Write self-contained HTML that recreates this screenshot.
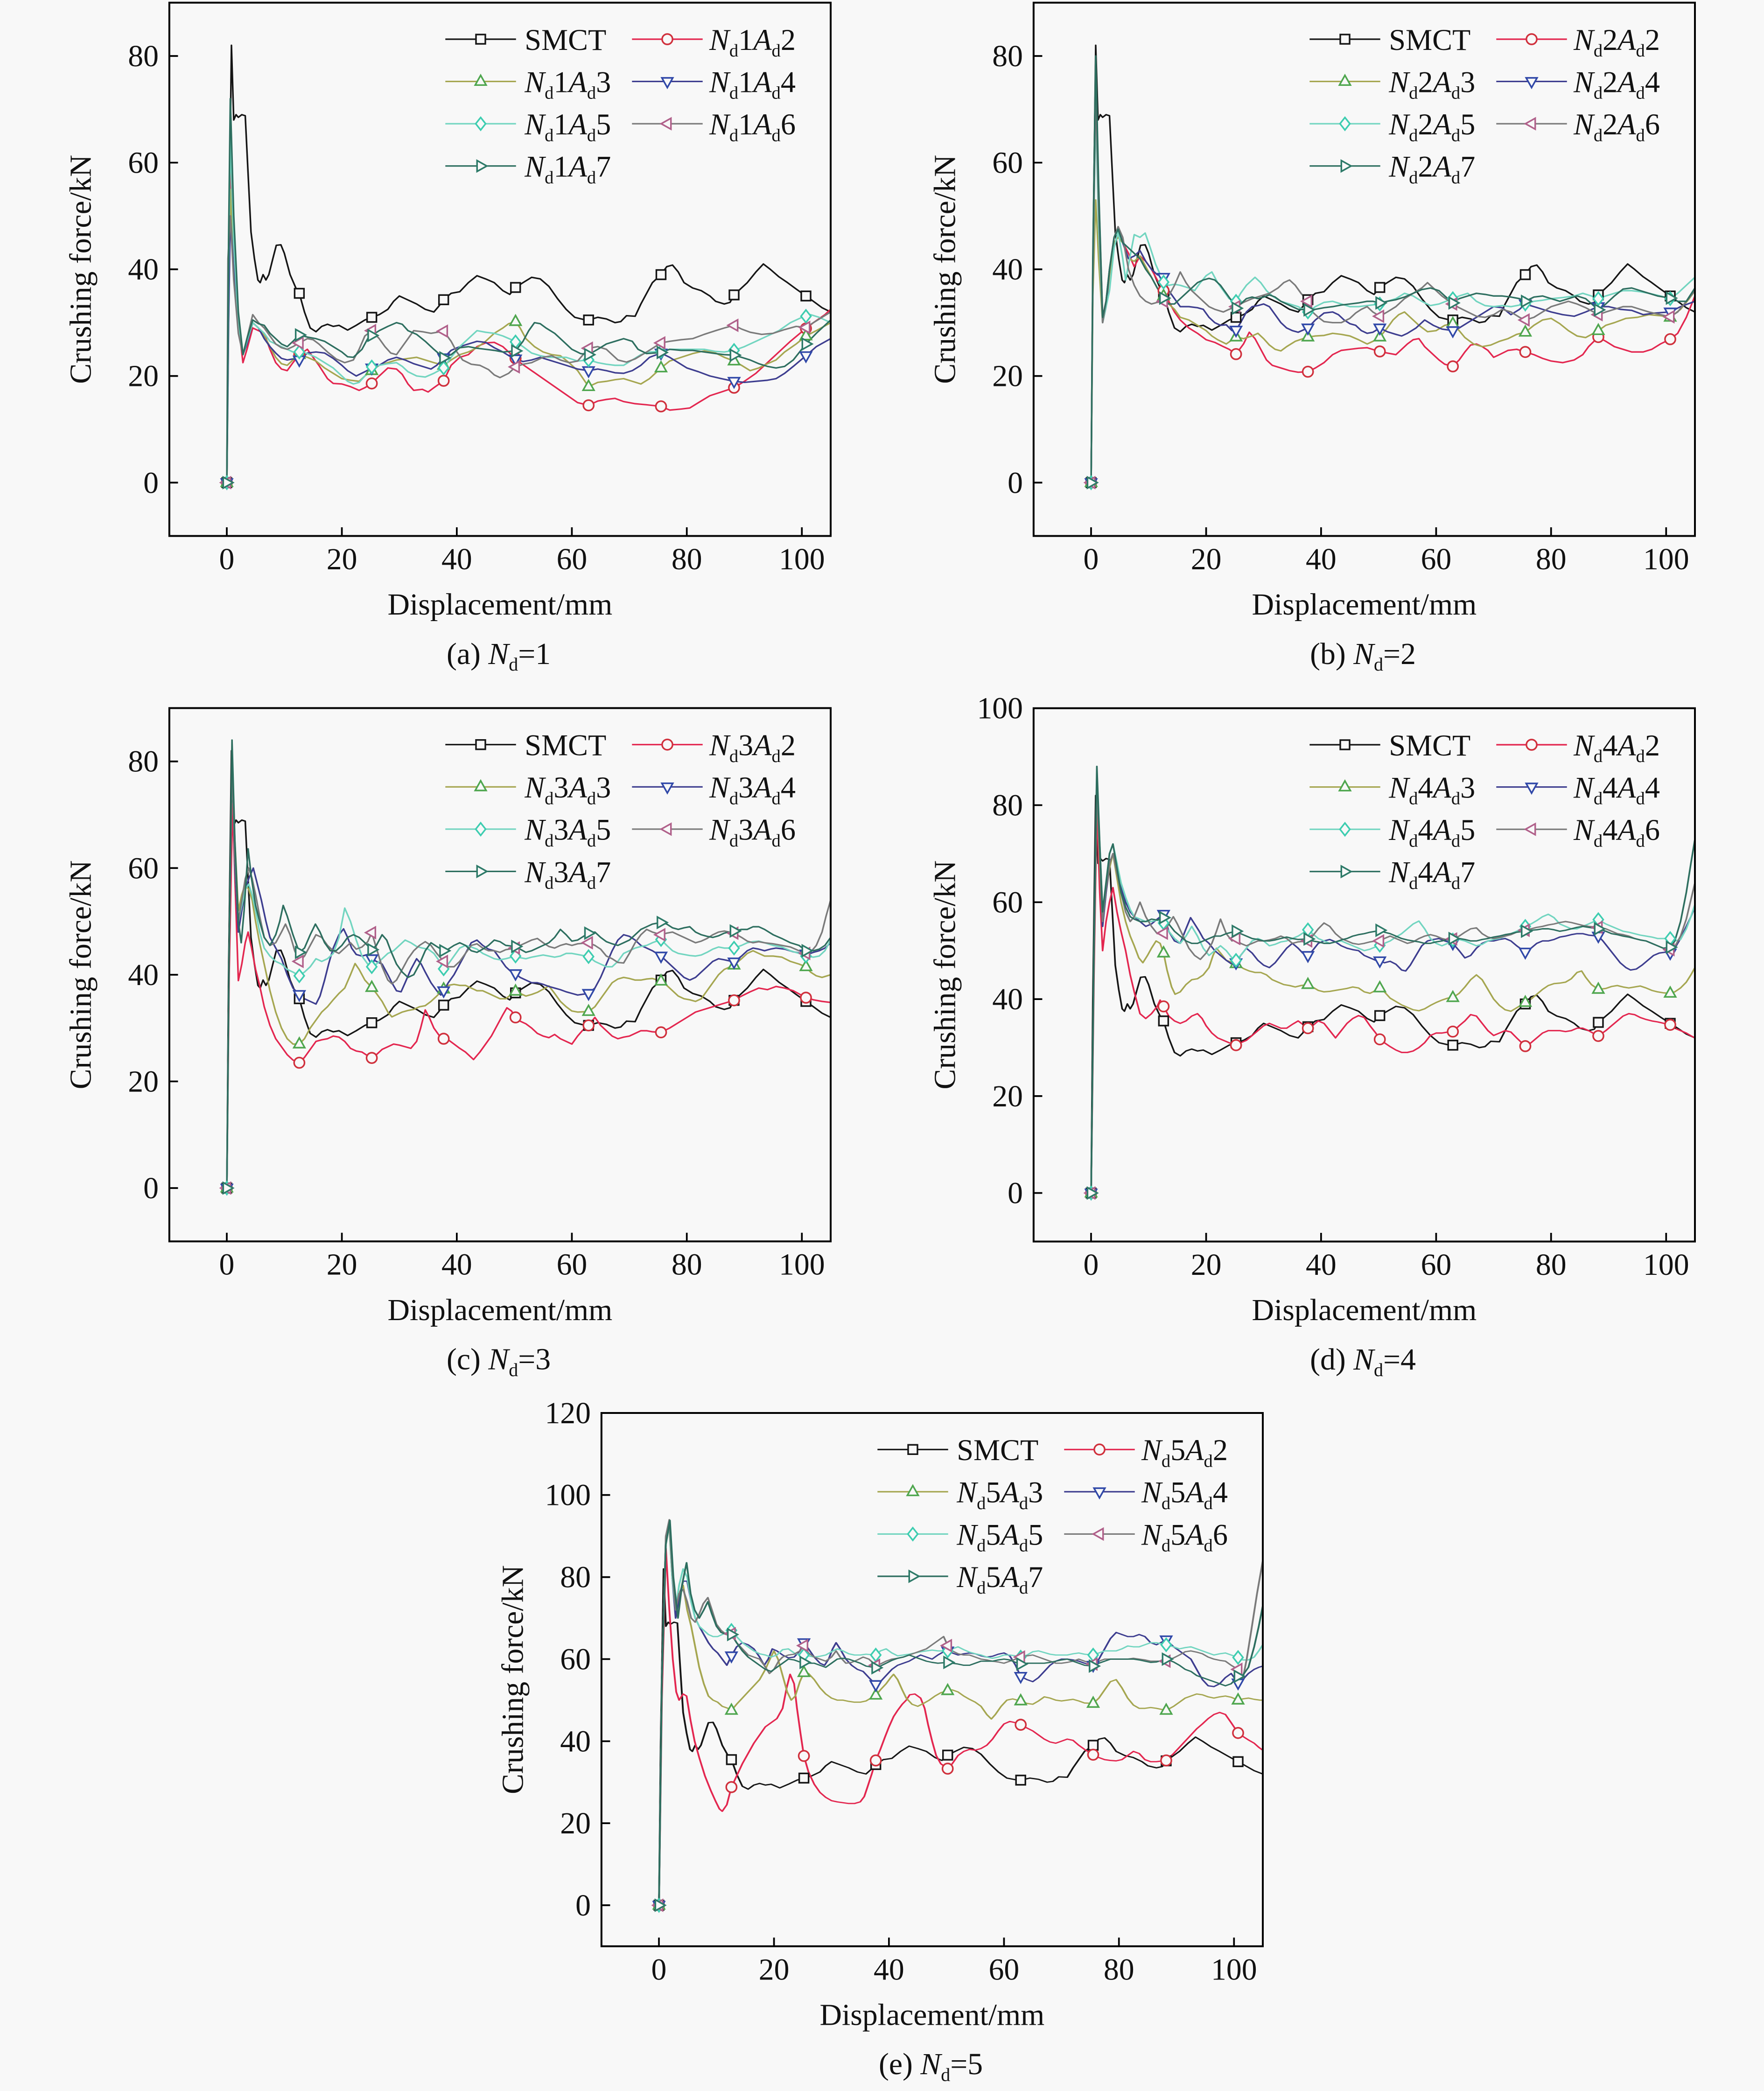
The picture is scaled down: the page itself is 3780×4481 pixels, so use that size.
<!DOCTYPE html>
<html><head><meta charset="utf-8"><style>
html,body{margin:0;padding:0;background:#f8f8f8;}
svg{display:block;}
text{font-family:"Liberation Serif",serif;font-size:23px;fill:#111;}
.lg text{font-size:22.5px;}
</style></head><body>
<svg xmlns="http://www.w3.org/2000/svg" xmlns:xlink="http://www.w3.org/1999/xlink" width="3780" height="4481" viewBox="0 0 1323 1568.35">
<rect x="0" y="0" width="1323" height="1568.35" fill="#f8f8f8"/>
<defs>
<rect id="p_sq" x="-3.5" y="-3.5" width="7" height="7" fill="#f8f8f8" stroke-width="1.2"/>
<circle id="p_ci" r="3.9" fill="#f8f8f8" stroke-width="1.2"/>
<path id="p_tu" d="M0,-4.6L4.1,2.7L-4.1,2.7Z" fill="#f8f8f8" stroke-width="1.2"/>
<path id="p_td" d="M0,4.6L4.1,-2.7L-4.1,-2.7Z" fill="#f8f8f8" stroke-width="1.2"/>
<path id="p_di" d="M0,-4.7L3.7,0L0,4.7L-3.7,0Z" fill="#f8f8f8" stroke-width="1.2"/>
<path id="p_tl" d="M-4.6,0L2.7,-4.1L2.7,4.1Z" fill="#f8f8f8" stroke-width="1.2"/>
<path id="p_tr" d="M4.6,0L-2.7,-4.1L-2.7,4.1Z" fill="#f8f8f8" stroke-width="1.2"/>
<g id="sqA" transform="scale(.2319,.25)"><use href="#p_sq" xlink:href="#p_sq"/></g>
<g id="ciA" transform="scale(.2319,.25)"><use href="#p_ci" xlink:href="#p_ci"/></g>
<g id="tuA" transform="scale(.2319,.25)"><use href="#p_tu" xlink:href="#p_tu"/></g>
<g id="tdA" transform="scale(.2319,.25)"><use href="#p_td" xlink:href="#p_td"/></g>
<g id="diA" transform="scale(.2319,.25)"><use href="#p_di" xlink:href="#p_di"/></g>
<g id="tlA" transform="scale(.2319,.25)"><use href="#p_tl" xlink:href="#p_tl"/></g>
<g id="trA" transform="scale(.2319,.25)"><use href="#p_tr" xlink:href="#p_tr"/></g>
<g id="sqD" transform="scale(.2319,.275)"><use href="#p_sq" xlink:href="#p_sq"/></g>
<g id="ciD" transform="scale(.2319,.275)"><use href="#p_ci" xlink:href="#p_ci"/></g>
<g id="tuD" transform="scale(.2319,.275)"><use href="#p_tu" xlink:href="#p_tu"/></g>
<g id="tdD" transform="scale(.2319,.275)"><use href="#p_td" xlink:href="#p_td"/></g>
<g id="diD" transform="scale(.2319,.275)"><use href="#p_di" xlink:href="#p_di"/></g>
<g id="tlD" transform="scale(.2319,.275)"><use href="#p_tl" xlink:href="#p_tl"/></g>
<g id="trD" transform="scale(.2319,.275)"><use href="#p_tr" xlink:href="#p_tr"/></g>
<g id="sqE" transform="scale(.2319,.325)"><use href="#p_sq" xlink:href="#p_sq"/></g>
<g id="ciE" transform="scale(.2319,.325)"><use href="#p_ci" xlink:href="#p_ci"/></g>
<g id="tuE" transform="scale(.2319,.325)"><use href="#p_tu" xlink:href="#p_tu"/></g>
<g id="tdE" transform="scale(.2319,.325)"><use href="#p_td" xlink:href="#p_td"/></g>
<g id="diE" transform="scale(.2319,.325)"><use href="#p_di" xlink:href="#p_di"/></g>
<g id="tlE" transform="scale(.2319,.325)"><use href="#p_tl" xlink:href="#p_tl"/></g>
<g id="trE" transform="scale(.2319,.325)"><use href="#p_tr" xlink:href="#p_tr"/></g>
<polyline id="smct" points="0,0 0.3,40 0.8,82 1.2,68 1.6,69 2,68.5 2.6,69 3.2,68.8 3.6,60 4.2,47 4.8,42 5.4,38 5.8,37.5 6.3,39 6.8,38 7.3,39 8,42 8.6,44.5 9.4,44.6 10,43 11,39 12,36.5 12.6,35.5 13.5,32 14.5,29 15.5,28.3 16.5,29.3 17.5,29.7 18.5,29.3 19.5,29.5 21,28.6 22.5,29.5 24,30.5 25.2,31 26.5,31.5 28,32.5 29,34 30,35 31,34.5 32,34 33,33.5 34.5,32.5 36,32 36.8,33 37.7,34.3 39,35.5 40.5,35.8 42,37.5 43.5,38.8 45,38.2 46.5,37.5 48,36 49.2,35.3 50.2,36.6 51.5,37.5 53,38.5 54.5,38.2 56,36.8 57.5,34.5 59,32.5 60.5,31 62,30.6 62.9,30.5 64.5,31 66,30.7 67.5,30 68.5,30.2 69.5,31.3 71,31.2 72,33.5 73,35.5 74,37.5 75.5,39 76.5,40.5 77.5,40.8 78.5,39.5 79.5,37.5 81,36.5 82.5,36 84,35 85,34 86.5,33.5 87.5,33.8 88.2,35.2 89.5,36.5 90.5,37.5 92,39.5 93.3,41 94.5,40 96,38.6 97.5,37.5 99,36.3 100.7,35 102,34 103.5,32.8 105,32"/>
</defs>

<!-- ================= PANEL A ================= -->
<g transform="translate(127,2)">
<svg x="0" y="0" width="496" height="400" viewBox="-10 -90 115 100" preserveAspectRatio="none">
<g transform="scale(1,-1)" fill="none" stroke-width=".28" stroke-linejoin="round">
<use href="#smct" xlink:href="#smct" stroke="#151515"/>
<polyline stroke="#e3264f" points="0,0 0.3,35 0.6,60 1.2,42 2,30 2.8,22.5 3.5,25 4.5,29 5.5,28.5 6.5,28 7.5,25 8.5,22.5 9.5,21.3 10.5,21 11.5,22.5 12.6,24 14,25 15,23.5 16,22 17.5,19.5 18.5,18.6 20,18.5 21.5,18 23,17.3 24,17.8 25.2,18.6 26.5,20 28,21.5 29.5,21.3 30.5,20.3 31.5,18.5 32.5,17.3 34,17.5 35,17 36,17.8 37.7,19.1 39,22 40.5,23.5 42,24 43.5,25.5 45,26.2 46.5,26.3 48,25.5 49.5,24 51,22.5 53,21 55,19.5 57,18 59,16.5 61,15 62.9,14.5 64.5,15.3 66,15.6 67.5,15.8 69,15.2 71,14.8 73,14.6 75.5,14.3 77,13.6 79,13.8 80.5,14 82,15 84,16.3 86,17 88.2,17.8 90,19 92,20.5 94,22.5 96,24.5 98,26.5 100,28.3 102,30 104,31.5 105,32.5"/>
<polyline stroke="#a5a650" points="0,0 0.3,30 0.6,55 1.2,40 2,30 2.8,24 3.5,26 4.5,30 5.5,29 6.5,27.5 7.5,25.5 8.5,23.5 9.5,22.3 10.5,22 11.5,23 12.6,24 14,23.5 15.5,22.8 17,21.5 18.5,20.5 20,19.5 21.5,19.2 23,19 24,20 25.2,21 26.5,22 28,22.5 29.5,23 31,23.2 33,23.5 34.5,23 36,22.5 37.7,22 39,23 40.5,24 42,24.5 43.5,25.3 45,26.5 46.5,28 48,29 49,29.8 50.2,30.2 51,29 52,27 53.5,25.5 55,24.5 56.5,24 58,23.8 59.5,22.5 61,21 62.9,18 64.5,18.8 66,19 67.5,19.3 69,19.5 70.5,19 72,18.5 73.5,19.5 75.5,21.5 77,22.8 79,23.5 81,24.2 83,24.7 85,24.3 86.5,23.5 88.2,22.8 89.5,22 91,21 92.5,21.5 94,22.3 95.5,23 97,24.5 99,26 100.7,27.5 102.5,28.5 105,30"/>
<polyline stroke="#3d3d8f" points="0,0 0.3,30 0.6,50 1.2,40 2,30 2.8,24 3.5,26 4.5,30 5.5,29 6.5,27 7.5,25.5 8.5,24.3 9.5,23.3 10.5,23 11.5,23.2 12.6,23 14,24.3 15.5,24.5 17,24.3 18.5,23.3 20,22 21,21 22.5,20 24,20.8 25.2,21.5 26.5,22 28,23 29.5,23.5 31,23 32.5,22.3 34,21.8 35.5,21.3 36.5,22 37.7,23.4 39,24.8 40.5,25.5 42,26 43.5,26.5 45,26.3 46.5,25.3 48,24.5 49.5,23.5 50.2,23.2 51.5,22.7 53,23 54.5,23.5 56,23 57.5,22.5 59,22 61,21.3 62.9,21 64.5,21.3 66,21 67.5,20.6 69,20.5 70.5,21 72,22 73.5,23.5 75.5,24.3 77,23.5 78.5,22.5 80,21.5 82,20.8 84,20 86,19.5 88.2,19 90,18.8 92,19 94,19.2 95.5,19.5 97,20.5 98.5,21.8 100.7,23.8 102.5,25.5 105,27"/>
<polyline stroke="#72d5c0" points="0,0 0.3,40 0.6,65 1.2,45 2,30 2.8,24 3.5,26.5 4.5,30 5.5,29 6.5,28 7.5,26.5 8.5,26 9.5,25.5 10.5,25 11.5,24.5 12.6,24.5 14,24.2 15.5,23.5 17,22.5 18.5,21.5 20,20 21,19 22,18.5 23,18.8 24,20 25.2,21.7 26.5,22 28,22.3 29.5,22.5 30.5,21.8 31.5,20.8 33,20 34.5,19.8 36,20.5 37.7,21.5 39,23.5 40.5,25.5 42,27 43.5,28.5 45,28.2 46.5,28 48,27.5 49.5,26.8 50.2,26.4 51.5,25.5 53,24.3 54.5,23.8 56,23.5 57.5,23.5 59,23.5 61,22.8 62.9,23 64.5,22.5 66,22.2 67.5,22 69,22 70.5,23 72,24 73.5,24.5 75.5,24.6 77,25 79,25 81,25 83,25 85,24.6 86.5,24.5 88.2,24.8 90,25.5 92,26.5 94,27.5 96,28.5 98,30 100,31 101.5,31.5 103,31 105,30"/>
<polyline stroke="#7a7a7a" points="0,0 0.2,42 0.6,50 1.2,38 2,28 2.8,24 3.5,27 4.5,31.5 5.5,30 6.5,29 7.5,27.5 8.5,26 9.5,25.3 10.5,25 11.5,25.5 12.6,26.2 14,27 15,26.8 16,26 17.5,24.5 19,23.2 20.5,22.5 22,23 23,25 24,27.5 25.2,28.5 26.5,27 27.5,25.5 28.5,24.3 29.5,24 30.5,25.5 31.5,27 32.5,28.5 34,28.3 35.5,28 37.7,28.4 39,26.5 40,24.5 41,23 42.5,22.2 44,22 45.5,21.2 46.5,20.2 47.5,19.7 49,20.5 50.2,21.7 51.5,22.2 53,22.5 55,23.5 56.5,23.8 58,23 59.5,22.5 61,22.8 62.9,25.2 64.5,25.5 66,25 67,24 68,23 69.5,22.6 71,23.2 73,24.5 75.5,26.2 77,26.5 79,26.8 81,27 83,27.8 85,28.5 86.5,29 88.2,29.5 89.5,28.8 91,28.2 93,27.8 95,28 97,28.7 99,29.3 100.7,29.1 102,30 103.5,31 105,32"/>
<polyline stroke="#2d6e5f" points="0,0 0.3,45 0.6,72 1.2,50 2,32 2.8,24 3.5,27 4.5,30.5 5.5,29.8 6.5,29.5 7.5,28 8.5,27 9.5,26 10.5,25.5 11.5,26.5 12.6,27.7 14,27.3 15.5,27 17,26.5 18.5,25.5 20,24.5 21,23.6 22,23.5 23.5,25 24.5,27 25.2,27.6 26.5,28.5 28,29.3 29.5,30 30.5,29.7 31.5,28.5 33,27.8 34.5,26.5 36,25 37.7,23.4 39,24 40.5,25.3 42,25.5 43.5,25.2 45,25 46.5,24.8 48,24.5 50.2,24.7 51.5,26.5 52.5,28.5 53.5,30 54.5,29.8 55.5,29 57,28 58.5,26.5 60,25 61.5,24.2 62.9,24 64.5,25 66,26 67.5,26.5 69,27 70.5,26.5 71.5,25 73,24.2 75.5,24.4 77,25 79,24.8 81,24.8 83,24.5 85,24.2 86.5,24 88.2,23.9 89.5,23.5 91,23 92.5,22.3 94,21.8 95.5,21.5 97,21.8 98.5,23 100.7,26 102.5,28 104,29.5 105,30.5"/>
</g>
<g stroke="#151515"><use href="#sqA" xlink:href="#sqA" x="0" y="0"/><use href="#sqA" xlink:href="#sqA" x="12.6" y="-35.5"/><use href="#sqA" xlink:href="#sqA" x="25.2" y="-31"/><use href="#sqA" xlink:href="#sqA" x="37.7" y="-34.3"/><use href="#sqA" xlink:href="#sqA" x="50.2" y="-36.6"/><use href="#sqA" xlink:href="#sqA" x="62.9" y="-30.5"/><use href="#sqA" xlink:href="#sqA" x="75.5" y="-39"/><use href="#sqA" xlink:href="#sqA" x="88.2" y="-35.2"/><use href="#sqA" xlink:href="#sqA" x="100.7" y="-35"/></g>
<g stroke="#d0303c"><use href="#ciA" xlink:href="#ciA" x="0" y="0"/><use href="#ciA" xlink:href="#ciA" x="12.6" y="-24"/><use href="#ciA" xlink:href="#ciA" x="25.2" y="-18.6"/><use href="#ciA" xlink:href="#ciA" x="37.7" y="-19.1"/><use href="#ciA" xlink:href="#ciA" x="50.2" y="-23.3"/><use href="#ciA" xlink:href="#ciA" x="62.9" y="-14.5"/><use href="#ciA" xlink:href="#ciA" x="75.5" y="-14.3"/><use href="#ciA" xlink:href="#ciA" x="88.2" y="-17.8"/><use href="#ciA" xlink:href="#ciA" x="100.7" y="-28.9"/></g>
<g stroke="#4ea64e"><use href="#tuA" xlink:href="#tuA" x="0" y="0"/><use href="#tuA" xlink:href="#tuA" x="12.6" y="-24"/><use href="#tuA" xlink:href="#tuA" x="25.2" y="-21"/><use href="#tuA" xlink:href="#tuA" x="37.7" y="-22"/><use href="#tuA" xlink:href="#tuA" x="50.2" y="-30.2"/><use href="#tuA" xlink:href="#tuA" x="62.9" y="-18"/><use href="#tuA" xlink:href="#tuA" x="75.5" y="-21.5"/><use href="#tuA" xlink:href="#tuA" x="88.2" y="-22.8"/><use href="#tuA" xlink:href="#tuA" x="100.7" y="-27.5"/></g>
<g stroke="#3048a8"><use href="#tdA" xlink:href="#tdA" x="0" y="0"/><use href="#tdA" xlink:href="#tdA" x="12.6" y="-23"/><use href="#tdA" xlink:href="#tdA" x="25.2" y="-21.5"/><use href="#tdA" xlink:href="#tdA" x="37.7" y="-23.4"/><use href="#tdA" xlink:href="#tdA" x="50.2" y="-23.2"/><use href="#tdA" xlink:href="#tdA" x="62.9" y="-21"/><use href="#tdA" xlink:href="#tdA" x="75.5" y="-24.3"/><use href="#tdA" xlink:href="#tdA" x="88.2" y="-19"/><use href="#tdA" xlink:href="#tdA" x="100.7" y="-23.8"/></g>
<g stroke="#3dcdb0"><use href="#diA" xlink:href="#diA" x="0" y="0"/><use href="#diA" xlink:href="#diA" x="12.6" y="-24.5"/><use href="#diA" xlink:href="#diA" x="25.2" y="-21.7"/><use href="#diA" xlink:href="#diA" x="37.7" y="-21.5"/><use href="#diA" xlink:href="#diA" x="50.2" y="-26.4"/><use href="#diA" xlink:href="#diA" x="62.9" y="-23"/><use href="#diA" xlink:href="#diA" x="75.5" y="-24.6"/><use href="#diA" xlink:href="#diA" x="88.2" y="-24.8"/><use href="#diA" xlink:href="#diA" x="100.7" y="-31.2"/></g>
<g stroke="#b0608a"><use href="#tlA" xlink:href="#tlA" x="0" y="0"/><use href="#tlA" xlink:href="#tlA" x="12.6" y="-26.2"/><use href="#tlA" xlink:href="#tlA" x="25.2" y="-28.5"/><use href="#tlA" xlink:href="#tlA" x="37.7" y="-28.4"/><use href="#tlA" xlink:href="#tlA" x="50.2" y="-21.7"/><use href="#tlA" xlink:href="#tlA" x="62.9" y="-25.2"/><use href="#tlA" xlink:href="#tlA" x="75.5" y="-26.2"/><use href="#tlA" xlink:href="#tlA" x="88.2" y="-29.5"/><use href="#tlA" xlink:href="#tlA" x="100.7" y="-29.1"/></g>
<g stroke="#2d7a68"><use href="#trA" xlink:href="#trA" x="0" y="0"/><use href="#trA" xlink:href="#trA" x="12.6" y="-27.7"/><use href="#trA" xlink:href="#trA" x="25.2" y="-27.6"/><use href="#trA" xlink:href="#trA" x="37.7" y="-23.4"/><use href="#trA" xlink:href="#trA" x="50.2" y="-24.7"/><use href="#trA" xlink:href="#trA" x="62.9" y="-24"/><use href="#trA" xlink:href="#trA" x="75.5" y="-24.4"/><use href="#trA" xlink:href="#trA" x="88.2" y="-23.9"/><use href="#trA" xlink:href="#trA" x="100.7" y="-26"/></g>
</svg>
<rect x="0" y="0" width="496" height="400" fill="none" stroke="#000" stroke-width="1.4"/>
<path d="M43.1,400v-6.5M129.4,400v-6.5M215.6,400v-6.5M301.9,400v-6.5M388.1,400v-6.5M474.4,400v-6.5M0,360h6.5M0,280h6.5M0,200h6.5M0,120h6.5M0,40h6.5" stroke="#000" stroke-width="1.3" fill="none"/>
<g text-anchor="middle"><text x="43.1" y="425">0</text><text x="129.4" y="425">20</text><text x="215.6" y="425">40</text><text x="301.9" y="425">60</text><text x="388.1" y="425">80</text><text x="474.4" y="425">100</text></g>
<g text-anchor="end"><text x="-8" y="367.7">0</text><text x="-8" y="287.7">20</text><text x="-8" y="207.7">40</text><text x="-8" y="127.7">60</text><text x="-8" y="47.7">80</text></g>
<text transform="translate(-59,200) rotate(-90)" text-anchor="middle">Crushing force/kN</text>
<text x="248" y="459" text-anchor="middle">Displacement/mm</text>
<text x="247" y="496" text-anchor="middle">(a) <tspan font-style="italic">N</tspan><tspan font-size="14" dy="5">d</tspan><tspan dy="-5">=1</tspan></text>
<g class="lg">
<path d="M207,27.4h53" stroke="#151515" stroke-width="1.1"/><use href="#p_sq" xlink:href="#p_sq" x="233.5" y="27.4" stroke="#151515"/><text x="266.5" y="35.4">SMCT</text>
<path d="M347,27.4h53" stroke="#e3264f" stroke-width="1.1"/><use href="#p_ci" xlink:href="#p_ci" x="373.5" y="27.4" stroke="#d0303c"/><text x="405" y="35.4"><tspan font-style="italic">N</tspan><tspan font-size="13.5" dy="5">d</tspan><tspan dy="-5">1</tspan><tspan font-style="italic">A</tspan><tspan font-size="13.5" dy="5">d</tspan><tspan dy="-5">2</tspan></text>
<path d="M207,59.1h53" stroke="#a5a650" stroke-width="1.1"/><use href="#p_tu" xlink:href="#p_tu" x="233.5" y="59.1" stroke="#4ea64e"/><text x="266.5" y="67.1"><tspan font-style="italic">N</tspan><tspan font-size="13.5" dy="5">d</tspan><tspan dy="-5">1</tspan><tspan font-style="italic">A</tspan><tspan font-size="13.5" dy="5">d</tspan><tspan dy="-5">3</tspan></text>
<path d="M347,59.1h53" stroke="#3d3d8f" stroke-width="1.1"/><use href="#p_td" xlink:href="#p_td" x="373.5" y="59.1" stroke="#3048a8"/><text x="405" y="67.1"><tspan font-style="italic">N</tspan><tspan font-size="13.5" dy="5">d</tspan><tspan dy="-5">1</tspan><tspan font-style="italic">A</tspan><tspan font-size="13.5" dy="5">d</tspan><tspan dy="-5">4</tspan></text>
<path d="M207,90.8h53" stroke="#72d5c0" stroke-width="1.1"/><use href="#p_di" xlink:href="#p_di" x="233.5" y="90.8" stroke="#3dcdb0"/><text x="266.5" y="98.8"><tspan font-style="italic">N</tspan><tspan font-size="13.5" dy="5">d</tspan><tspan dy="-5">1</tspan><tspan font-style="italic">A</tspan><tspan font-size="13.5" dy="5">d</tspan><tspan dy="-5">5</tspan></text>
<path d="M347,90.8h53" stroke="#7a7a7a" stroke-width="1.1"/><use href="#p_tl" xlink:href="#p_tl" x="373.5" y="90.8" stroke="#b0608a"/><text x="405" y="98.8"><tspan font-style="italic">N</tspan><tspan font-size="13.5" dy="5">d</tspan><tspan dy="-5">1</tspan><tspan font-style="italic">A</tspan><tspan font-size="13.5" dy="5">d</tspan><tspan dy="-5">6</tspan></text>
<path d="M207,122.5h53" stroke="#2d6e5f" stroke-width="1.1"/><use href="#p_tr" xlink:href="#p_tr" x="233.5" y="122.5" stroke="#2d7a68"/><text x="266.5" y="130.5"><tspan font-style="italic">N</tspan><tspan font-size="13.5" dy="5">d</tspan><tspan dy="-5">1</tspan><tspan font-style="italic">A</tspan><tspan font-size="13.5" dy="5">d</tspan><tspan dy="-5">7</tspan></text>
</g>
</g>

<!-- ================= PANEL B ================= -->
<g transform="translate(775.2,2)">
<svg x="0" y="0" width="496" height="400" viewBox="-10 -90 115 100" preserveAspectRatio="none">
<g transform="scale(1,-1)" fill="none" stroke-width=".28" stroke-linejoin="round">
<use href="#smct" xlink:href="#smct" stroke="#151515"/>
<polyline stroke="#e3264f" points="0,0 0.3,40 0.8,76 1.3,55 2,31 2.6,34 3.2,40 4,46 4.7,47.5 5.5,45 6.5,43 7.5,40.5 8.5,42.5 9.5,41.5 10.5,40 11.5,38 12.6,36 13.5,34 14.5,32 15.5,30.5 17,29 18.5,28 20,26.8 21.5,26.3 23,25.5 24,25 25.2,24.1 26.5,26 27.5,28.2 28.5,27 29.5,25 30.5,23 31.5,22 33,21.5 34.5,21 36,20.7 37.7,20.8 39,21.5 40.5,22.5 42,24 43.5,24.8 45,25 46.5,25.2 48,25.3 49.5,24.8 50.2,24.6 51.5,24.3 53,24 54,25 55,26 56,26.8 57,27 58,25.5 59,24.5 60.5,23 61.5,22.2 62.9,21.8 64,23 65,24.5 66,25.8 67,26 68,25.5 69,24.8 70,23.5 71,24 72.5,24.8 74,25 75.5,24.5 77,24 78.5,23.3 80,22.8 82,22.5 84,23 85.5,24 86.5,25.5 88.2,27.3 89.5,26.5 91,25.5 92.5,25 94,24.5 96,24.5 97.5,25 99,26 100.7,26.9 102,28 103.5,31 105,35"/>
<polyline stroke="#a5a650" points="0,0 0.3,35 0.8,53 1.3,42 2,30 2.6,33 3.2,39 4,45 4.7,46 5.5,45 6.5,42 7.5,41.5 8.5,42.5 9.5,40.5 10.5,38.5 11.5,36.5 12.6,35 13.5,33.5 14.5,32.5 15.5,31 17,30.5 18.5,29.5 20,28.5 21,27.5 22,26.8 23.5,26 25.2,27.3 26.5,27 28,27.5 29,28 30,27 31,25.8 32,25 33,24.7 34,25.5 35.5,26.5 37.7,27.3 39,27.5 40.5,27.6 42,28 43.5,27.8 45,27.5 46.5,26.8 48,26 49,26.5 50.2,27.3 51.5,29 52.5,30.5 53.5,31.5 54.5,32 55.5,31 57,29.5 58.5,28.3 60,28.5 61.5,29.5 62.9,29.8 64,28.5 65,27.2 66.5,26 68,25.5 69.5,25.8 71,26.5 72.5,27 74,27.8 75.5,28.2 77,29.5 78.5,30.5 80,30.8 81.5,29.8 83,28.5 84.5,27.5 86,27.2 88.2,28.5 89.5,29.5 91,30 93,30.8 95,31 97,31.5 99,31.3 100.7,31 102.5,32.5 104,34.5 105,36"/>
<polyline stroke="#3d3d8f" points="0,0 0.3,38 0.8,72 1.3,50 2,30 2.6,33 3.2,40 4,46 4.7,47.5 5.5,45 6.5,42 7.5,42.5 8.5,43.5 9.5,41.5 10.5,40 11.5,39 12.6,38.5 13.5,36 14.5,34.5 15.5,33 17,33 18.5,32.8 19.5,32.5 20.5,31 21.5,30 22.5,29.5 23.5,29.6 24.5,28.5 25.2,28.6 26,30 27,32 28,33 29,33.2 30,33.5 31,33 32,31.5 33,30 34,29 35,28.5 36,28.2 37.7,29 39,30.5 40.5,31.8 42,32 43,31.5 44,30.5 45,29.8 46,29.5 47,28.5 48,28 49,28.2 50.2,29 51.5,28.3 53,27.8 54,27.5 55,28 56.5,29 58,30.5 59.5,29.5 61,28.8 62.9,28.5 64,29 65.5,30 67,31 68.5,32 70,33 71.5,32.8 73,31.5 74.5,32.5 75.5,33.5 77,33 78.5,32.5 80,32 82,31.5 84,31.2 86,32 88.2,33 90,33 92,32.5 94,32.3 96,31.5 98,31.8 100.7,32 102.5,33 105,34"/>
<polyline stroke="#72d5c0" points="0,0 0.3,38 0.8,70 1.3,48 2,30 2.6,33 3.2,36 4,44 4.7,47 5.5,42 6,38 6.7,42 7.5,46.5 8.5,46 9.4,46.8 10.3,44 11.2,41 12.6,37.6 13.5,37 14.5,37.2 15.5,37 17,36.5 18,36 19,37.5 20,38.8 21,39.5 22,37.5 23,36 24,34.5 25.2,34 26,35.5 27,37 28.5,38.5 29.5,37.5 30.5,36 31.5,35 33,34 34.5,33.5 36,33 37.7,32 39,33 40.5,33.8 42,34 43.5,33.5 45,33 46.5,33 48,33.2 50.2,33.5 51.5,34 53,34.5 54.5,35.5 56,35 57.5,34 59,33.2 60.5,33.5 62.9,34.5 64,35 65.5,35.5 67,34 68.5,33.2 70,33 71.5,33.2 73,33 75.5,33.5 77,34 78.5,34.2 80,34.5 82,34.7 84,35 85.5,35.5 87,35 88.2,34.5 89.5,35 91,35.5 92.5,36 94,36 95.5,35.8 97,35.5 99,35 100.7,34.5 102,35.5 103.5,37 105,38.5"/>
<polyline stroke="#7a7a7a" points="0,0 0.3,38 0.8,74 1.3,52 2,30 2.6,34 3.2,40 4,46 4.7,48 5.5,46 6.5,40 7.5,37 8.5,35 9.5,34 10.5,33.5 11.5,33.8 12.6,34 13.5,35 14.5,37 15.5,39.5 16.5,37.5 17.5,36 18.5,35 19.5,34 20.5,33 21.5,32.5 23,32 24,32.5 25.2,33 26.5,33.8 28,34.5 29.5,35 31,35.5 32.5,36.5 33.5,37.5 34.5,38 35.5,37 36.5,35.5 37.7,34 38.5,32 39.5,31 40.5,30.2 42,30 43.5,30 45,30.8 46,31.8 47,32.5 48,33 49,32 50.2,31.2 51.5,32 53,33 54.5,34.5 56,35.5 57.5,36.5 58.5,37.5 59.5,36.5 61,35 62.9,33.5 64,32.8 65.5,32 67,31.2 68.5,31 70,31.5 71.5,32.5 73,32 74.5,31 75.5,30.5 77,31 78.5,32 80,33 81.5,33.5 83,34 84.5,33.5 86,32.8 88.2,31.5 89.5,32 91,32.5 92.5,33 94,33 95.5,32.5 97,32 99,31.5 100.7,31.1 102,32 103.5,34 105,36"/>
<polyline stroke="#2d6e5f" points="0,0 0.3,42 0.8,80 1.3,56 2,31 2.6,34 3.2,40 4,46 4.7,47.5 5.5,45 6.5,44 7.5,43 8.5,42 9.5,40 10.5,38.5 11.5,36.5 12.6,34.6 13.5,33.5 14.5,33.5 15.5,34.5 16.5,35.5 17.5,36.5 18.5,37.5 19.5,38 20.5,38.3 21.5,38 22.5,37 23.5,35.5 24.5,34 25.2,32.7 26,33.5 27,34.5 28,34.8 29,34.5 30,34.8 31,35.2 32,34.8 33,34 34,33.5 35,33 36,32.5 37.7,32.4 39,32.5 40.5,32.8 42,33 43.5,33.3 45,33.5 46.5,33.7 48,34 49,34 50.2,33.7 51.5,34 53,34.3 54.5,34.8 56,35.5 57.5,36.2 59,36.5 60.5,36 61.5,35 62.9,33.7 64,34.5 65.5,35 67,35.5 68.5,35.3 70,35 71.5,35 73,34.8 74.5,34.5 75.5,34 77,34.8 78.5,35 80,34.5 81.5,34 83,34.5 84.5,35 86,34.5 88.2,32.4 89.5,33.5 91,35 92.5,36.3 94,36.5 95.5,36 97,35.5 98.5,35 100.7,34.6 102,34 103.5,34 105,36.5"/>
</g>
<g stroke="#151515"><use href="#sqA" xlink:href="#sqA" x="0" y="0"/><use href="#sqA" xlink:href="#sqA" x="12.6" y="-35.5"/><use href="#sqA" xlink:href="#sqA" x="25.2" y="-31"/><use href="#sqA" xlink:href="#sqA" x="37.7" y="-34.3"/><use href="#sqA" xlink:href="#sqA" x="50.2" y="-36.6"/><use href="#sqA" xlink:href="#sqA" x="62.9" y="-30.5"/><use href="#sqA" xlink:href="#sqA" x="75.5" y="-39"/><use href="#sqA" xlink:href="#sqA" x="88.2" y="-35.2"/><use href="#sqA" xlink:href="#sqA" x="100.7" y="-35"/></g>
<g stroke="#d0303c"><use href="#ciA" xlink:href="#ciA" x="0" y="0"/><use href="#ciA" xlink:href="#ciA" x="12.6" y="-36"/><use href="#ciA" xlink:href="#ciA" x="25.2" y="-24.1"/><use href="#ciA" xlink:href="#ciA" x="37.7" y="-20.8"/><use href="#ciA" xlink:href="#ciA" x="50.2" y="-24.6"/><use href="#ciA" xlink:href="#ciA" x="62.9" y="-21.8"/><use href="#ciA" xlink:href="#ciA" x="75.5" y="-24.5"/><use href="#ciA" xlink:href="#ciA" x="88.2" y="-27.3"/><use href="#ciA" xlink:href="#ciA" x="100.7" y="-26.9"/></g>
<g stroke="#4ea64e"><use href="#tuA" xlink:href="#tuA" x="0" y="0"/><use href="#tuA" xlink:href="#tuA" x="12.6" y="-35"/><use href="#tuA" xlink:href="#tuA" x="25.2" y="-27.3"/><use href="#tuA" xlink:href="#tuA" x="37.7" y="-27.3"/><use href="#tuA" xlink:href="#tuA" x="50.2" y="-27.3"/><use href="#tuA" xlink:href="#tuA" x="62.9" y="-29.8"/><use href="#tuA" xlink:href="#tuA" x="75.5" y="-28.2"/><use href="#tuA" xlink:href="#tuA" x="88.2" y="-28.5"/><use href="#tuA" xlink:href="#tuA" x="100.7" y="-31"/></g>
<g stroke="#3048a8"><use href="#tdA" xlink:href="#tdA" x="0" y="0"/><use href="#tdA" xlink:href="#tdA" x="12.6" y="-38.5"/><use href="#tdA" xlink:href="#tdA" x="25.2" y="-28.6"/><use href="#tdA" xlink:href="#tdA" x="37.7" y="-29"/><use href="#tdA" xlink:href="#tdA" x="50.2" y="-29"/><use href="#tdA" xlink:href="#tdA" x="62.9" y="-28.5"/><use href="#tdA" xlink:href="#tdA" x="75.5" y="-33.5"/><use href="#tdA" xlink:href="#tdA" x="88.2" y="-33"/><use href="#tdA" xlink:href="#tdA" x="100.7" y="-32"/></g>
<g stroke="#3dcdb0"><use href="#diA" xlink:href="#diA" x="0" y="0"/><use href="#diA" xlink:href="#diA" x="12.6" y="-37.6"/><use href="#diA" xlink:href="#diA" x="25.2" y="-34"/><use href="#diA" xlink:href="#diA" x="37.7" y="-32"/><use href="#diA" xlink:href="#diA" x="50.2" y="-33.5"/><use href="#diA" xlink:href="#diA" x="62.9" y="-34.5"/><use href="#diA" xlink:href="#diA" x="75.5" y="-33.5"/><use href="#diA" xlink:href="#diA" x="88.2" y="-34.5"/><use href="#diA" xlink:href="#diA" x="100.7" y="-34.5"/></g>
<g stroke="#b0608a"><use href="#tlA" xlink:href="#tlA" x="0" y="0"/><use href="#tlA" xlink:href="#tlA" x="12.6" y="-34"/><use href="#tlA" xlink:href="#tlA" x="25.2" y="-33"/><use href="#tlA" xlink:href="#tlA" x="37.7" y="-34"/><use href="#tlA" xlink:href="#tlA" x="50.2" y="-31.2"/><use href="#tlA" xlink:href="#tlA" x="62.9" y="-33.5"/><use href="#tlA" xlink:href="#tlA" x="75.5" y="-30.5"/><use href="#tlA" xlink:href="#tlA" x="88.2" y="-31.5"/><use href="#tlA" xlink:href="#tlA" x="100.7" y="-31.1"/></g>
<g stroke="#2d7a68"><use href="#trA" xlink:href="#trA" x="0" y="0"/><use href="#trA" xlink:href="#trA" x="12.6" y="-34.6"/><use href="#trA" xlink:href="#trA" x="25.2" y="-32.7"/><use href="#trA" xlink:href="#trA" x="37.7" y="-32.4"/><use href="#trA" xlink:href="#trA" x="50.2" y="-33.7"/><use href="#trA" xlink:href="#trA" x="62.9" y="-33.7"/><use href="#trA" xlink:href="#trA" x="75.5" y="-34"/><use href="#trA" xlink:href="#trA" x="88.2" y="-32.4"/><use href="#trA" xlink:href="#trA" x="100.7" y="-34.6"/></g>
</svg>
<rect x="0" y="0" width="496" height="400" fill="none" stroke="#000" stroke-width="1.4"/>
<path d="M43.1,400v-6.5M129.4,400v-6.5M215.6,400v-6.5M301.9,400v-6.5M388.1,400v-6.5M474.4,400v-6.5M0,360h6.5M0,280h6.5M0,200h6.5M0,120h6.5M0,40h6.5" stroke="#000" stroke-width="1.3" fill="none"/>
<g text-anchor="middle"><text x="43.1" y="425">0</text><text x="129.4" y="425">20</text><text x="215.6" y="425">40</text><text x="301.9" y="425">60</text><text x="388.1" y="425">80</text><text x="474.4" y="425">100</text></g>
<g text-anchor="end"><text x="-8" y="367.7">0</text><text x="-8" y="287.7">20</text><text x="-8" y="207.7">40</text><text x="-8" y="127.7">60</text><text x="-8" y="47.7">80</text></g>
<text transform="translate(-59,200) rotate(-90)" text-anchor="middle">Crushing force/kN</text>
<text x="248" y="459" text-anchor="middle">Displacement/mm</text>
<text x="247" y="496" text-anchor="middle">(b) <tspan font-style="italic">N</tspan><tspan font-size="14" dy="5">d</tspan><tspan dy="-5">=2</tspan></text>
<g class="lg">
<path d="M207,27.4h53" stroke="#151515" stroke-width="1.1"/><use href="#p_sq" xlink:href="#p_sq" x="233.5" y="27.4" stroke="#151515"/><text x="266.5" y="35.4">SMCT</text>
<path d="M347,27.4h53" stroke="#e3264f" stroke-width="1.1"/><use href="#p_ci" xlink:href="#p_ci" x="373.5" y="27.4" stroke="#d0303c"/><text x="405" y="35.4"><tspan font-style="italic">N</tspan><tspan font-size="13.5" dy="5">d</tspan><tspan dy="-5">2</tspan><tspan font-style="italic">A</tspan><tspan font-size="13.5" dy="5">d</tspan><tspan dy="-5">2</tspan></text>
<path d="M207,59.1h53" stroke="#a5a650" stroke-width="1.1"/><use href="#p_tu" xlink:href="#p_tu" x="233.5" y="59.1" stroke="#4ea64e"/><text x="266.5" y="67.1"><tspan font-style="italic">N</tspan><tspan font-size="13.5" dy="5">d</tspan><tspan dy="-5">2</tspan><tspan font-style="italic">A</tspan><tspan font-size="13.5" dy="5">d</tspan><tspan dy="-5">3</tspan></text>
<path d="M347,59.1h53" stroke="#3d3d8f" stroke-width="1.1"/><use href="#p_td" xlink:href="#p_td" x="373.5" y="59.1" stroke="#3048a8"/><text x="405" y="67.1"><tspan font-style="italic">N</tspan><tspan font-size="13.5" dy="5">d</tspan><tspan dy="-5">2</tspan><tspan font-style="italic">A</tspan><tspan font-size="13.5" dy="5">d</tspan><tspan dy="-5">4</tspan></text>
<path d="M207,90.8h53" stroke="#72d5c0" stroke-width="1.1"/><use href="#p_di" xlink:href="#p_di" x="233.5" y="90.8" stroke="#3dcdb0"/><text x="266.5" y="98.8"><tspan font-style="italic">N</tspan><tspan font-size="13.5" dy="5">d</tspan><tspan dy="-5">2</tspan><tspan font-style="italic">A</tspan><tspan font-size="13.5" dy="5">d</tspan><tspan dy="-5">5</tspan></text>
<path d="M347,90.8h53" stroke="#7a7a7a" stroke-width="1.1"/><use href="#p_tl" xlink:href="#p_tl" x="373.5" y="90.8" stroke="#b0608a"/><text x="405" y="98.8"><tspan font-style="italic">N</tspan><tspan font-size="13.5" dy="5">d</tspan><tspan dy="-5">2</tspan><tspan font-style="italic">A</tspan><tspan font-size="13.5" dy="5">d</tspan><tspan dy="-5">6</tspan></text>
<path d="M207,122.5h53" stroke="#2d6e5f" stroke-width="1.1"/><use href="#p_tr" xlink:href="#p_tr" x="233.5" y="122.5" stroke="#2d7a68"/><text x="266.5" y="130.5"><tspan font-style="italic">N</tspan><tspan font-size="13.5" dy="5">d</tspan><tspan dy="-5">2</tspan><tspan font-style="italic">A</tspan><tspan font-size="13.5" dy="5">d</tspan><tspan dy="-5">7</tspan></text>
</g>
</g>

<!-- ================= PANEL C ================= -->
<g transform="translate(127,531.1)">
<svg x="0" y="0" width="496" height="400" viewBox="-10 -90 115 100" preserveAspectRatio="none">
<g transform="scale(1,-1)" fill="none" stroke-width=".28" stroke-linejoin="round">
<use href="#smct" xlink:href="#smct" stroke="#151515"/>
<polyline stroke="#e3264f" points="0,0 0.4,40 1,72 1.5,55 2,38.9 2.6,42 3.2,46 3.7,48 4.3,45 5,41 5.7,38 6.5,34 7.5,30.5 8.5,28 9.5,26.5 10.5,25 11.5,24 12.6,23.5 13.5,24.5 14.5,26 15.5,27.5 16.5,27.8 17.5,28 18.5,28.5 19.5,28.3 20.5,27.5 21.5,26.2 22.5,25.7 23.5,25.5 24.5,24.8 25.2,24.4 26,25 27,26 28,26.5 29,27 30,26.8 31,26.5 32,26.2 33,27.5 33.7,30 34.5,33.4 35.2,32 36,30 37,28.5 37.7,28 38.5,27.8 39.5,27 40.5,26.2 41.5,25.5 42.9,24.1 44,25.5 45,27 46,28.5 47,30.5 48,32.5 48.7,33.8 49.5,33.2 50.2,32 51,31.3 52,30.8 53,30 54,29 55,28.5 56,28.2 57,28.8 58,28 59,27.5 60,27 61,28.5 61.8,29.5 62.9,30.5 64,32 65,30.5 66,29.5 67,28.5 68,28 69,28.3 70,28.5 71,29 72,29.5 73,29.5 74,29.3 75.5,29.2 77,30 78.5,31 80,32 81.5,33 83,33.5 84.5,34 86,34.5 88.2,35.2 89.5,36 91,36.8 92.5,37.5 94,37.2 95.5,37.8 97,37.5 98.5,37 100.7,35.7 102,35.3 103.5,35 105,34.8"/>
<polyline stroke="#a5a650" points="0,0 0.4,45 0.9,80 1.4,65 2,52 2.6,55 3.2,57 3.8,56 4.4,54 5,50 5.7,46 6.5,42 7.5,37 8.5,33 9.5,30 10.5,28 11.5,27 12.6,27 13.5,28 14.5,30 15.5,31.5 16.5,33 17.5,34 18.5,35.3 19.5,36.5 20.5,37.5 21.5,40 22.3,42.1 23,41 24,39 25.2,37.6 26,36.5 27,35 28,33 28.7,32.1 29.5,32.5 30.5,33 31.5,33.3 32.5,33.5 33.5,34 34.5,34.2 35.5,35 36.5,36 37.7,37.3 38.5,38 39.5,38.2 40.5,38 41.5,38 42.5,37.5 43.5,37 44.5,37 45.5,36.5 46.5,36 47.5,35.5 48.5,35.5 50.2,36.9 51,36.5 52,36 53,36.3 54,36.7 55,37.3 56,37.9 57,36.5 58,35 59,34 60,33.2 61,33 62.9,33.1 64,34 65,35.5 66,37 67,38.5 68,39.2 69,39.5 70,39.3 71,39 72,39 73,39.2 74,39.3 75.5,38.8 76.5,38 77.5,37 78.5,36 79.5,35.5 80.5,35.3 81.5,35 82.5,35.5 83.5,37 84.5,38.5 85.5,40 86.5,41 88.2,41.8 89.5,43 90.5,44 91.5,44.5 92.5,44 93.5,43.5 95,43.5 96.5,43.3 98,42.5 99.5,42 100.7,41.5 101.5,40.5 102.5,39.8 103.5,39.5 105,40"/>
<polyline stroke="#3d3d8f" points="0,0 0.4,45 0.9,82 1.4,60 2,48 2.6,52 3.2,56 3.8,58 4.6,60 5.3,57 6,54 6.8,50 7.5,47 8.5,45 9.5,43 10.5,40 11.5,37.5 12.6,36.3 13.5,35.5 14.5,35 15.5,34.5 16.2,36 17,39 17.7,42 18.5,45 19.5,47.5 20.3,48.6 21,47 21.7,45 22.5,43.8 23.5,43.5 24.5,43.8 25.2,43 26,42.5 27,42 28,40 28.7,38.5 29.5,37 30.3,36.8 31,38.5 32,41 33,43 33.8,42 34.5,40.5 35.5,38.5 36.5,37 37.2,36.2 37.7,37 38.5,38.5 39.5,40 40.5,42 41.5,44 42.5,46 43.5,46.5 44.5,45.5 45.5,44.8 46.5,44.5 47.5,43 48.5,41.5 49.5,40.5 50.2,40.2 51,39.5 52,39 53,38.5 54,38.5 55,38.2 56,37.8 57,37.5 58,37.2 59,36.8 60,36.5 61,36.2 62.9,36.5 64,37.5 65,39.5 66,42 67,44.5 68,46.5 69,47.5 70,47.2 71,46.5 72,45.5 73,45 74,44.5 75.5,43.5 76.5,42.5 77.5,41.5 78.5,40.5 79.5,39.5 80.5,39 81.5,39.5 82.5,40.5 83.5,41.5 84.5,42.5 85.5,43 86.5,42.8 88.2,42.4 89.5,43.5 90.5,44.5 91.5,45 92.5,44.8 93.5,44.5 94.5,44.8 95.5,45 97,44.8 98.5,44.3 100,44 101,43.8 102,44.2 103,44.5 104,45 105,46"/>
<polyline stroke="#72d5c0" points="0,0 0.4,45 0.9,80 1.4,62 2,50 2.6,53 3.2,56 3.8,57 4.4,55 5,52 5.7,48 6.5,45 7.5,43.5 8.5,42.5 9.5,42 10.5,41 11.5,40.5 12.6,39.8 13.5,40.5 14.5,41.5 15.5,43 16.5,42.5 17.5,43 18.5,44 19.5,47 20.5,52.5 21.5,50 22.5,46.5 23.5,43.5 24.5,42 25.2,41.5 26,42 27,43 28,44 29,44.5 30,45.5 31,46.5 32,46 33,45.3 34,45 35,44.8 36,44 37,42.5 37.7,41.1 38.5,42 39.5,43.5 40.5,45 41.5,45.5 42.5,45.2 43.5,44.8 44.5,44 45.5,43.5 46.5,43 47.5,42.8 48.5,43 50.2,43.5 51,43.2 52,43 53,43.3 54,43.5 55,43.7 56,43.5 57,43.3 58,43.5 59,44 60,44 61,43.8 62.9,43.4 64,42.5 65,42 66,41.5 67,41.5 68,42.5 69,44 70,44.5 71,45 72,45.3 73,45.5 74,46 75.5,46.6 76.5,45.5 77.5,44.5 78.5,44 79.5,43.8 80.5,43.6 81.5,43.5 82.5,43.7 83.5,44.2 84.5,44.8 85.5,45.2 86.5,45 88.2,45 89.5,45.5 90.5,46 91.5,46.2 92.5,46.3 93.5,46 95,45.5 96.5,45.2 98,44.5 99.5,44 100.7,43.5 102,43.3 103,43.5 104,44.5 105,46.5"/>
<polyline stroke="#7a7a7a" points="0,0 0.4,45 0.9,80 1.4,62 2,50 2.6,54 3.2,58 3.8,60 4.4,58 5,55 5.7,51 6.5,47 7.5,45.5 8.5,46 9.5,48 10.2,49.5 11,47.5 11.8,44.5 12.6,42.5 13.5,43.5 14.5,45.5 15.5,47.5 16.5,47 17.5,45.5 18.5,44.5 19.5,44 20.5,45 21.5,46 22.5,44.8 23.5,45.2 24.5,46.2 25.2,47.9 26,45 27,41.5 28,39 28.7,38.3 29.5,39 30.5,41 31.5,43 32.5,44.5 33.5,45.5 34.5,46.2 35.5,45.5 36.5,44 37.7,42.5 38.5,41.5 39.5,41.5 40.5,42.5 41.5,44 42.5,45.5 43.5,45.8 44.5,45 45.5,44.5 46.5,44.5 47.5,44.2 48.5,44.7 50.2,45 51,45.5 52,46 53,46.5 54,46.8 55,46 56,45.3 57,45 58,45.5 59,45.8 60,45.5 61,45.8 62.9,46 64,45.5 65,44.8 66,43.5 67,43 68,42.3 69,42.2 70,44 71,46 72,47.5 73,48.5 74,48 75.5,47.5 76.5,47.8 77.5,48 78.5,47.5 79.5,47 80.5,46.5 81.5,46 82.5,46.3 83.5,46.8 84.5,47.5 85.5,48 86.5,48.2 88.2,47.8 89.5,47 90.5,46.3 91.5,46 92.5,46.2 93.5,46 95,45.8 96.5,45.5 98,45.2 99.5,44.5 100.7,44 101.5,44.2 102.5,45.5 103.5,48 104.2,51 105,54"/>
<polyline stroke="#2d6e5f" points="0,0 0.4,45 0.9,84 1.4,65 2,50 2.5,46 3,52 3.7,63.6 4.3,58 5,53 5.7,50 6.5,47 7.5,45.5 8.5,47.5 9.2,50 9.8,53 10.5,51 11.5,47.5 12.6,44.2 13.5,45 14.5,47.5 15.4,49.5 16.2,48 17,46 18,44.5 19,44.5 20,45.5 21,47 22,47.5 23,47 24,46 25.2,44.7 26,45.5 27,47.5 27.8,46.5 28.5,44.5 29.5,42 30.5,40.5 31.5,39.5 32.5,40 33.5,42 34.5,44.5 35.5,46 36.5,45.3 37.7,44.5 38.5,44.8 39.5,45.5 40.5,46 41.5,45.5 42.5,44.5 43.5,44.2 44.5,44.8 45.5,45.5 46.5,46.5 47.5,46.2 48.5,45.5 50.2,45.3 51,44.8 52,44.2 53,44.5 54,45 55,45.5 56,46 57,47 58,48.5 59,47.5 60,46.3 61,46.5 62.9,47.8 64,48 65,47 66,46.2 67,45.8 68,45.5 69,46 70,46.5 71,47.5 72,48.5 73,49 74,49.5 75.5,49.8 76.5,49.5 77.5,48.8 78.5,48.5 79.5,48.8 80.5,49 81.5,48 82.5,47.5 83.5,47.2 84.5,47 85.5,47.3 86.5,47.8 88.2,48.2 89.5,48.5 90.5,48.5 91.5,49 92.5,49 93.5,48.5 95,47.5 96.5,46.8 98,46 99.5,45.5 100.7,44.5 102,44.5 103,44.8 104,45.5 105,47"/>
</g>
<g stroke="#151515"><use href="#sqA" xlink:href="#sqA" x="0" y="0"/><use href="#sqA" xlink:href="#sqA" x="12.6" y="-35.5"/><use href="#sqA" xlink:href="#sqA" x="25.2" y="-31"/><use href="#sqA" xlink:href="#sqA" x="37.7" y="-34.3"/><use href="#sqA" xlink:href="#sqA" x="50.2" y="-36.6"/><use href="#sqA" xlink:href="#sqA" x="62.9" y="-30.5"/><use href="#sqA" xlink:href="#sqA" x="75.5" y="-39"/><use href="#sqA" xlink:href="#sqA" x="88.2" y="-35.2"/><use href="#sqA" xlink:href="#sqA" x="100.7" y="-35"/></g>
<g stroke="#d0303c"><use href="#ciA" xlink:href="#ciA" x="0" y="0"/><use href="#ciA" xlink:href="#ciA" x="12.6" y="-23.5"/><use href="#ciA" xlink:href="#ciA" x="25.2" y="-24.4"/><use href="#ciA" xlink:href="#ciA" x="37.7" y="-28"/><use href="#ciA" xlink:href="#ciA" x="50.2" y="-32"/><use href="#ciA" xlink:href="#ciA" x="62.9" y="-30.5"/><use href="#ciA" xlink:href="#ciA" x="75.5" y="-29.2"/><use href="#ciA" xlink:href="#ciA" x="88.2" y="-35.2"/><use href="#ciA" xlink:href="#ciA" x="100.7" y="-35.7"/></g>
<g stroke="#4ea64e"><use href="#tuA" xlink:href="#tuA" x="0" y="0"/><use href="#tuA" xlink:href="#tuA" x="12.6" y="-27"/><use href="#tuA" xlink:href="#tuA" x="25.2" y="-37.6"/><use href="#tuA" xlink:href="#tuA" x="37.7" y="-37.3"/><use href="#tuA" xlink:href="#tuA" x="50.2" y="-36.9"/><use href="#tuA" xlink:href="#tuA" x="62.9" y="-33.1"/><use href="#tuA" xlink:href="#tuA" x="75.5" y="-38.8"/><use href="#tuA" xlink:href="#tuA" x="88.2" y="-41.8"/><use href="#tuA" xlink:href="#tuA" x="100.7" y="-41.5"/></g>
<g stroke="#3048a8"><use href="#tdA" xlink:href="#tdA" x="0" y="0"/><use href="#tdA" xlink:href="#tdA" x="12.6" y="-36.3"/><use href="#tdA" xlink:href="#tdA" x="25.2" y="-43"/><use href="#tdA" xlink:href="#tdA" x="37.7" y="-37"/><use href="#tdA" xlink:href="#tdA" x="50.2" y="-40.2"/><use href="#tdA" xlink:href="#tdA" x="62.9" y="-36.5"/><use href="#tdA" xlink:href="#tdA" x="75.5" y="-43.5"/><use href="#tdA" xlink:href="#tdA" x="88.2" y="-42.4"/><use href="#tdA" xlink:href="#tdA" x="100.7" y="-43.9"/></g>
<g stroke="#3dcdb0"><use href="#diA" xlink:href="#diA" x="0" y="0"/><use href="#diA" xlink:href="#diA" x="12.6" y="-39.8"/><use href="#diA" xlink:href="#diA" x="25.2" y="-41.5"/><use href="#diA" xlink:href="#diA" x="37.7" y="-41.1"/><use href="#diA" xlink:href="#diA" x="50.2" y="-43.5"/><use href="#diA" xlink:href="#diA" x="62.9" y="-43.4"/><use href="#diA" xlink:href="#diA" x="75.5" y="-46.6"/><use href="#diA" xlink:href="#diA" x="88.2" y="-45"/><use href="#diA" xlink:href="#diA" x="100.7" y="-43.5"/></g>
<g stroke="#b0608a"><use href="#tlA" xlink:href="#tlA" x="0" y="0"/><use href="#tlA" xlink:href="#tlA" x="12.6" y="-42.5"/><use href="#tlA" xlink:href="#tlA" x="25.2" y="-47.9"/><use href="#tlA" xlink:href="#tlA" x="37.7" y="-42.5"/><use href="#tlA" xlink:href="#tlA" x="50.2" y="-45"/><use href="#tlA" xlink:href="#tlA" x="62.9" y="-46"/><use href="#tlA" xlink:href="#tlA" x="75.5" y="-47.5"/><use href="#tlA" xlink:href="#tlA" x="88.2" y="-47.8"/><use href="#tlA" xlink:href="#tlA" x="100.7" y="-44"/></g>
<g stroke="#2d7a68"><use href="#trA" xlink:href="#trA" x="0" y="0"/><use href="#trA" xlink:href="#trA" x="12.6" y="-44.2"/><use href="#trA" xlink:href="#trA" x="25.2" y="-44.7"/><use href="#trA" xlink:href="#trA" x="37.7" y="-44.5"/><use href="#trA" xlink:href="#trA" x="50.2" y="-45.3"/><use href="#trA" xlink:href="#trA" x="62.9" y="-47.8"/><use href="#trA" xlink:href="#trA" x="75.5" y="-49.8"/><use href="#trA" xlink:href="#trA" x="88.2" y="-48.2"/><use href="#trA" xlink:href="#trA" x="100.7" y="-44.5"/></g>
</svg>
<rect x="0" y="0" width="496" height="400" fill="none" stroke="#000" stroke-width="1.4"/>
<path d="M43.1,400v-6.5M129.4,400v-6.5M215.6,400v-6.5M301.9,400v-6.5M388.1,400v-6.5M474.4,400v-6.5M0,360h6.5M0,280h6.5M0,200h6.5M0,120h6.5M0,40h6.5" stroke="#000" stroke-width="1.3" fill="none"/>
<g text-anchor="middle"><text x="43.1" y="425">0</text><text x="129.4" y="425">20</text><text x="215.6" y="425">40</text><text x="301.9" y="425">60</text><text x="388.1" y="425">80</text><text x="474.4" y="425">100</text></g>
<g text-anchor="end"><text x="-8" y="367.7">0</text><text x="-8" y="287.7">20</text><text x="-8" y="207.7">40</text><text x="-8" y="127.7">60</text><text x="-8" y="47.7">80</text></g>
<text transform="translate(-59,200) rotate(-90)" text-anchor="middle">Crushing force/kN</text>
<text x="248" y="459" text-anchor="middle">Displacement/mm</text>
<text x="247" y="496" text-anchor="middle">(c) <tspan font-style="italic">N</tspan><tspan font-size="14" dy="5">d</tspan><tspan dy="-5">=3</tspan></text>
<g class="lg">
<path d="M207,27.4h53" stroke="#151515" stroke-width="1.1"/><use href="#p_sq" xlink:href="#p_sq" x="233.5" y="27.4" stroke="#151515"/><text x="266.5" y="35.4">SMCT</text>
<path d="M347,27.4h53" stroke="#e3264f" stroke-width="1.1"/><use href="#p_ci" xlink:href="#p_ci" x="373.5" y="27.4" stroke="#d0303c"/><text x="405" y="35.4"><tspan font-style="italic">N</tspan><tspan font-size="13.5" dy="5">d</tspan><tspan dy="-5">3</tspan><tspan font-style="italic">A</tspan><tspan font-size="13.5" dy="5">d</tspan><tspan dy="-5">2</tspan></text>
<path d="M207,59.1h53" stroke="#a5a650" stroke-width="1.1"/><use href="#p_tu" xlink:href="#p_tu" x="233.5" y="59.1" stroke="#4ea64e"/><text x="266.5" y="67.1"><tspan font-style="italic">N</tspan><tspan font-size="13.5" dy="5">d</tspan><tspan dy="-5">3</tspan><tspan font-style="italic">A</tspan><tspan font-size="13.5" dy="5">d</tspan><tspan dy="-5">3</tspan></text>
<path d="M347,59.1h53" stroke="#3d3d8f" stroke-width="1.1"/><use href="#p_td" xlink:href="#p_td" x="373.5" y="59.1" stroke="#3048a8"/><text x="405" y="67.1"><tspan font-style="italic">N</tspan><tspan font-size="13.5" dy="5">d</tspan><tspan dy="-5">3</tspan><tspan font-style="italic">A</tspan><tspan font-size="13.5" dy="5">d</tspan><tspan dy="-5">4</tspan></text>
<path d="M207,90.8h53" stroke="#72d5c0" stroke-width="1.1"/><use href="#p_di" xlink:href="#p_di" x="233.5" y="90.8" stroke="#3dcdb0"/><text x="266.5" y="98.8"><tspan font-style="italic">N</tspan><tspan font-size="13.5" dy="5">d</tspan><tspan dy="-5">3</tspan><tspan font-style="italic">A</tspan><tspan font-size="13.5" dy="5">d</tspan><tspan dy="-5">5</tspan></text>
<path d="M347,90.8h53" stroke="#7a7a7a" stroke-width="1.1"/><use href="#p_tl" xlink:href="#p_tl" x="373.5" y="90.8" stroke="#b0608a"/><text x="405" y="98.8"><tspan font-style="italic">N</tspan><tspan font-size="13.5" dy="5">d</tspan><tspan dy="-5">3</tspan><tspan font-style="italic">A</tspan><tspan font-size="13.5" dy="5">d</tspan><tspan dy="-5">6</tspan></text>
<path d="M207,122.5h53" stroke="#2d6e5f" stroke-width="1.1"/><use href="#p_tr" xlink:href="#p_tr" x="233.5" y="122.5" stroke="#2d7a68"/><text x="266.5" y="130.5"><tspan font-style="italic">N</tspan><tspan font-size="13.5" dy="5">d</tspan><tspan dy="-5">3</tspan><tspan font-style="italic">A</tspan><tspan font-size="13.5" dy="5">d</tspan><tspan dy="-5">7</tspan></text>
</g>
</g>

<!-- ================= PANEL D ================= -->
<g transform="translate(775.2,531.2)">
<svg x="0" y="0" width="496" height="400" viewBox="-10 -100 115 110" preserveAspectRatio="none">
<g transform="scale(1,-1)" fill="none" stroke-width=".29" stroke-linejoin="round">
<use href="#smct" xlink:href="#smct" stroke="#151515"/>
<polyline stroke="#e3264f" points="0,0 0.5,45 1,80 1.5,62 2,50 2.6,56 3.2,60 3.8,63 4.5,58 5.2,54 6,50 6.8,45 7.5,41.5 8.5,37 9.5,36 10.5,37 11.5,38.5 12,39.8 12.6,38.5 13.5,36.5 14.5,35.5 15.5,35 16.5,35.5 17.5,36.5 18.5,37 19.3,36 20,34.5 21,33 22,32 23,31.5 24,31 25.2,30.5 26,31 27,31.5 28,32.5 29,33.5 30,34.5 31,35 32,34.5 33,34 34,34 35,34.8 36,35.5 37.7,34 38.5,34.5 39.5,35.5 40.5,35 41.5,33.5 42.5,32 43.5,33.5 44.5,35 45.5,36 46.5,36.6 47.5,36.2 48.5,34.5 49.5,33 50.2,31.7 51,31 52,30.2 53,29.5 54,29 55,29 56,29.3 57,30 58,31 59,32.5 60,33 61,33 62,33.2 62.9,33.3 64,34.5 65,35.5 66,36.8 67,36.5 68,35 69,33.5 70,32.5 71,33 72,33.5 73,33.2 74,32 75.5,30.3 76.5,31 77.5,32 78.5,33 79.5,33.5 80.5,33.5 81.5,33.5 82.5,33.3 83.5,33.5 84.5,34 85.5,34 86.5,33.5 88.2,32.4 89.5,33.5 90.5,34.5 91.5,35.5 92.5,36.5 93.5,37 94.5,36.8 95.5,36.2 96.5,35.8 97.5,35.5 98.5,35.3 100.7,34.7 101.5,34 102.5,33.5 103.5,33 104.5,32.3 105,32"/>
<polyline stroke="#a5a650" points="0,0 0.5,50 1,85 1.5,68 2,55 2.6,62 3.2,67 3.8,70 4.5,65 5.2,60 6,56 6.8,53 7.5,51 8.3,48.5 9,47.5 9.8,49 10.5,50.5 11.3,52 12,51.5 12.6,49.5 13.2,46 14,42.5 14.6,41 15.5,41.5 16.5,43 17.5,44 18.5,44.2 19.5,45 20.5,46.5 21.2,49 21.8,50.5 22.5,49.5 23.5,48 25.2,47.3 26.5,46.3 27.5,45.8 28.5,45.5 29.5,45.5 30.5,45 31.5,44 32.5,43.5 33.5,43 34.5,42.8 35.5,42.5 36.5,42.8 37.7,43 38.5,42.5 39.5,41.8 40.5,41.5 41.5,41.6 42.5,41.8 43.5,42 44.5,42.2 45.5,42.5 46.5,42.3 47.5,41.5 48.5,41.2 49.5,41.8 50.2,42.3 51,41.5 52,40.2 53,39.5 54,38.8 55,38.3 56,37.8 57,37.6 58,38 59,38.7 60,39.3 61,39.8 62,40.2 62.9,40.3 64,41.2 65,42.5 66,44 67,45 68,44 69,42 70,40 71,38.7 72,37.8 73,37.5 74,38.2 75.5,39.3 76.5,40 77.5,41 78.5,42 79.5,42.8 80.5,43.2 81.5,43.3 82.5,43.5 83.5,44.2 84.5,45.5 85.3,45.8 86,44.5 87,43 88.2,42 89.5,42.2 90.5,42.6 91.5,42.8 92.5,42.5 93.5,42.3 94.5,42.5 95.5,42.7 96.5,42.3 97.5,41.8 98.5,41.5 99.5,41.3 100.7,41.2 101.5,41.5 102.5,42.3 103.5,43.5 104.3,45 105,46.5"/>
<polyline stroke="#3d3d8f" points="0,0 0.5,50 1,86 1.5,70 2,55 2.6,62 3.2,68 3.8,70 4.5,68 5.2,63 6,60 6.8,58 7.5,57 8.5,56 9.5,55 10.5,55.5 11.5,56.5 12.6,57.5 13.5,54 14.5,52 15.5,51.5 16.5,54.5 17.3,56.8 18,55.5 18.8,54 19.5,52.5 20.5,51.5 21.5,50 22.5,49 23.5,48 24.5,47.2 25.2,47.5 26,49 27,50.5 28,49.5 29,48 30,47 31,46.5 32,47.5 33,49 34,50.5 35,51.5 36,50.5 36.8,49.5 37.7,49 38.5,50 39.5,51.5 40.5,52 41.5,52.3 42.5,51.8 43.5,51 44.5,50.5 45.5,50.2 46.5,50 47.5,49 48.5,48.5 49.5,48 50.2,47.9 51,47.5 52,47.8 53,47.2 54,46 54.7,45.8 55.5,47 56.5,49 57.5,51 58.5,52 59.5,52.3 60.5,52.5 61.5,52 62.9,51.5 64,50 65,48.5 66,49 67,50.5 68,51.5 69,52 70,52 71,52.3 72,52.5 73,52 74,51 75.5,49.7 76.5,50.5 77.5,51.5 78.5,52 79.5,52 80.5,52.3 81.5,52.8 82.5,53 83.5,53.3 84.5,53.5 85.5,53.5 86.5,53.2 88.2,53 89,52 90,50.5 91,49 92,47.5 93,46.5 93.8,46 94.8,46.2 95.8,47 96.8,48 97.8,49 98.8,49.5 100,49.7 100.7,49.5 101.5,50.5 102.5,52.5 103.5,55 104.3,57 105,59"/>
<polyline stroke="#72d5c0" points="0,0 0.5,50 1,85 1.5,72 2,58 2.6,64 3.2,70 3.8,72 4.5,68 5.2,64 6,61 6.8,58.5 7.5,57 8.5,56.5 9.5,56 10.5,56 11.5,56.3 12.6,55.7 13.5,54 14.5,52.5 15.5,51.5 16.5,53 17.5,55 18.5,53 19.5,50.5 20.5,49 21.5,50 22.5,51 23.5,50 24.5,48.5 25.2,48 26,49 27,50.5 28,52 29,52.5 30,52 31,51 32,51.3 33,51.8 34,52 35,52.5 36,53 37.7,54.3 38.5,53.5 39.5,52.5 40.5,52 41.5,51.5 42.5,51.8 43.5,52 44.5,51.5 45.5,51 46.5,50.5 47.5,50 48.5,50.3 49.5,50.8 50.2,51.1 51,51.5 52,52 53,52.8 54,53.5 55,54.5 56,55.5 57,56.1 58,54.5 59,52.5 60,51.5 61,51 62,51.5 62.9,52.2 64,52.3 65,52 66,51.5 67,51 68,51.3 69,52 70,52.3 71,52.5 72,53 73,53.5 74,54 75.5,55 76.5,55.5 77.5,56.2 78.5,57 79.5,57.5 80.5,56.8 81.5,55.5 82.5,55 83.5,54.5 84.5,54.5 85.5,55 86.5,55.5 88.2,56.4 89.5,55.5 90.5,55 91.5,54.5 92.5,54 93.5,53.8 94.5,53.5 95.5,53.2 96.5,53 97.5,52.8 98.5,52.5 99.5,52.5 100.7,52.5 101.5,52 102.5,52.3 103.5,54.5 104.3,57 105,59.5"/>
<polyline stroke="#7a7a7a" points="0,0 0.5,48 1,84 1.5,70 2,56 2.6,63 3.2,68 3.8,70 4.5,66 5.2,62 6,58 6.8,56 7.5,57 8.5,60 9.5,57 10.5,55 11.5,53.5 12.6,53.6 13.5,55.5 14.3,57 15,55.5 16,53 17,50.5 18,49 19,48.2 20,49.5 21,51.5 21.8,54 22.5,56.5 23.5,53.5 24.5,52 25.2,52.5 26,51.5 27,51 28,51.5 29,52 30,52 31,52.2 32,52.5 33,53 34,52.5 35,51.5 36,51.8 37.7,52 38.5,53 39.5,54.5 40.5,55.7 41.5,55 42.5,53.5 43.5,52.5 44.5,52 45.5,51.5 46.5,51.3 47.5,51.5 48.5,51.8 49.5,52 50.2,52 51,52.5 52,53 53,52.5 54,52 55,51.5 56,51.8 57,52.5 58,53 59,53.3 60,53 61,52.5 62,52.2 62.9,52.4 64,53 65,53.8 66,54.5 67,54.7 68,53.5 69,52.8 70,52.5 71,52.7 72,53 73,53.3 74,53.8 75.5,54.2 76.5,54.5 77.5,54.8 78.5,55 79.5,55.3 80.5,55.5 81.5,55.8 82.5,56 83.5,55.8 84.5,55.5 85.5,55.2 86.5,55 88.2,54.8 89.5,54.5 90.5,54 91.5,53.5 92.5,53.3 93.5,53 94.5,52.5 95.5,52.2 96.5,52 97.5,51.5 98.5,51 99.5,50.5 100.7,50.2 101.5,50.8 102.5,53 103.5,56.5 104.3,60.5 105,64"/>
<polyline stroke="#2d6e5f" points="0,0 0.5,52 1,88 1.5,72 2,58 2.6,64 3.2,70 3.8,72 4.5,67 5.2,62 6,59 6.8,57 7.5,56.5 8.5,56 9.5,56 10.5,56.5 11.5,56.3 12.6,56.8 13.5,55.5 14.5,54 15.5,53 16.5,52 17.5,51.5 18.5,51.5 19.5,52 20.5,52.5 21.5,53 22.5,53 23.5,53.5 24.5,53.8 25.2,54 26,53.5 27,53 28,52.5 29,52.3 30,52 31,52 32,52.2 33,52.5 34,52.8 35,52.5 36,52.3 37.7,52.4 38.5,52 39.5,51.8 40.5,51.5 41.5,51.5 42.5,51.8 43.5,52.2 44.5,52.5 45.5,53 46.5,53.3 47.5,53.5 48.5,53.8 49.5,54 50.2,54.2 51,53.8 52,53.5 53,53 54,52.5 55,52.2 56,52 57,51.8 58,51.5 59,51.5 60,51.8 61,52 62,52.3 62.9,52.5 64,52.5 65,52.3 66,52 67,52 68,52.3 69,52.5 70,52.8 71,53 72,53.3 73,53.5 74,53.8 75.5,54 76.5,54.2 77.5,54.3 78.5,54.5 79.5,54.5 80.5,54.3 81.5,54 82.5,54.2 83.5,54.5 84.5,54.8 85.5,55 86.5,54.8 88.2,54.5 89.5,54 90.5,53.5 91.5,53.3 92.5,53 93.5,52.8 94.5,52.5 95.5,52.2 96.5,52 97.5,51.5 98.5,51 99.5,50.5 100.7,50.7 101.5,52 102.5,56 103.5,62 104.3,68 105,73"/>
</g>
<g stroke="#151515"><use href="#sqD" xlink:href="#sqD" x="0" y="0"/><use href="#sqD" xlink:href="#sqD" x="12.6" y="-35.5"/><use href="#sqD" xlink:href="#sqD" x="25.2" y="-31"/><use href="#sqD" xlink:href="#sqD" x="37.7" y="-34.3"/><use href="#sqD" xlink:href="#sqD" x="50.2" y="-36.6"/><use href="#sqD" xlink:href="#sqD" x="62.9" y="-30.5"/><use href="#sqD" xlink:href="#sqD" x="75.5" y="-39"/><use href="#sqD" xlink:href="#sqD" x="88.2" y="-35.2"/><use href="#sqD" xlink:href="#sqD" x="100.7" y="-35"/></g>
<g stroke="#d0303c"><use href="#ciD" xlink:href="#ciD" x="0" y="0"/><use href="#ciD" xlink:href="#ciD" x="12.6" y="-38.5"/><use href="#ciD" xlink:href="#ciD" x="25.2" y="-30.5"/><use href="#ciD" xlink:href="#ciD" x="37.7" y="-34"/><use href="#ciD" xlink:href="#ciD" x="50.2" y="-31.7"/><use href="#ciD" xlink:href="#ciD" x="62.9" y="-33.3"/><use href="#ciD" xlink:href="#ciD" x="75.5" y="-30.3"/><use href="#ciD" xlink:href="#ciD" x="88.2" y="-32.4"/><use href="#ciD" xlink:href="#ciD" x="100.7" y="-34.7"/></g>
<g stroke="#4ea64e"><use href="#tuD" xlink:href="#tuD" x="0" y="0"/><use href="#tuD" xlink:href="#tuD" x="12.6" y="-49.5"/><use href="#tuD" xlink:href="#tuD" x="25.2" y="-47.3"/><use href="#tuD" xlink:href="#tuD" x="37.7" y="-43"/><use href="#tuD" xlink:href="#tuD" x="50.2" y="-42.3"/><use href="#tuD" xlink:href="#tuD" x="62.9" y="-40.3"/><use href="#tuD" xlink:href="#tuD" x="75.5" y="-39.3"/><use href="#tuD" xlink:href="#tuD" x="88.2" y="-42"/><use href="#tuD" xlink:href="#tuD" x="100.7" y="-41.2"/></g>
<g stroke="#3048a8"><use href="#tdD" xlink:href="#tdD" x="0" y="0"/><use href="#tdD" xlink:href="#tdD" x="12.6" y="-57.5"/><use href="#tdD" xlink:href="#tdD" x="25.2" y="-47.5"/><use href="#tdD" xlink:href="#tdD" x="37.7" y="-49"/><use href="#tdD" xlink:href="#tdD" x="50.2" y="-47.9"/><use href="#tdD" xlink:href="#tdD" x="62.9" y="-51.5"/><use href="#tdD" xlink:href="#tdD" x="75.5" y="-49.7"/><use href="#tdD" xlink:href="#tdD" x="88.2" y="-53"/><use href="#tdD" xlink:href="#tdD" x="100.7" y="-49.5"/></g>
<g stroke="#3dcdb0"><use href="#diD" xlink:href="#diD" x="0" y="0"/><use href="#diD" xlink:href="#diD" x="12.6" y="-55.7"/><use href="#diD" xlink:href="#diD" x="25.2" y="-48"/><use href="#diD" xlink:href="#diD" x="37.7" y="-54.3"/><use href="#diD" xlink:href="#diD" x="50.2" y="-51.1"/><use href="#diD" xlink:href="#diD" x="62.9" y="-52.2"/><use href="#diD" xlink:href="#diD" x="75.5" y="-55"/><use href="#diD" xlink:href="#diD" x="88.2" y="-56.4"/><use href="#diD" xlink:href="#diD" x="100.7" y="-52.5"/></g>
<g stroke="#b0608a"><use href="#tlD" xlink:href="#tlD" x="0" y="0"/><use href="#tlD" xlink:href="#tlD" x="12.6" y="-53.6"/><use href="#tlD" xlink:href="#tlD" x="25.2" y="-52.5"/><use href="#tlD" xlink:href="#tlD" x="37.7" y="-52"/><use href="#tlD" xlink:href="#tlD" x="50.2" y="-52"/><use href="#tlD" xlink:href="#tlD" x="62.9" y="-52.4"/><use href="#tlD" xlink:href="#tlD" x="75.5" y="-54.2"/><use href="#tlD" xlink:href="#tlD" x="88.2" y="-54.8"/><use href="#tlD" xlink:href="#tlD" x="100.7" y="-50.2"/></g>
<g stroke="#2d7a68"><use href="#trD" xlink:href="#trD" x="0" y="0"/><use href="#trD" xlink:href="#trD" x="12.6" y="-56.8"/><use href="#trD" xlink:href="#trD" x="25.2" y="-54"/><use href="#trD" xlink:href="#trD" x="37.7" y="-52.4"/><use href="#trD" xlink:href="#trD" x="50.2" y="-54.2"/><use href="#trD" xlink:href="#trD" x="62.9" y="-52.5"/><use href="#trD" xlink:href="#trD" x="75.5" y="-54"/><use href="#trD" xlink:href="#trD" x="88.2" y="-54.5"/><use href="#trD" xlink:href="#trD" x="100.7" y="-50.7"/></g>
</svg>
<rect x="0" y="0" width="496" height="400" fill="none" stroke="#000" stroke-width="1.4"/>
<path d="M43.1,400v-6.5M129.4,400v-6.5M215.6,400v-6.5M301.9,400v-6.5M388.1,400v-6.5M474.4,400v-6.5M0,363.6h6.5M0,290.9h6.5M0,218.2h6.5M0,145.5h6.5M0,72.7h6.5" stroke="#000" stroke-width="1.3" fill="none"/>
<g text-anchor="middle"><text x="43.1" y="425">0</text><text x="129.4" y="425">20</text><text x="215.6" y="425">40</text><text x="301.9" y="425">60</text><text x="388.1" y="425">80</text><text x="474.4" y="425">100</text></g>
<g text-anchor="end"><text x="-8" y="371.3">0</text><text x="-8" y="298.6">20</text><text x="-8" y="225.9">40</text><text x="-8" y="153.2">60</text><text x="-8" y="80.4">80</text><text x="-8" y="7.7">100</text></g>
<text transform="translate(-59,200) rotate(-90)" text-anchor="middle">Crushing force/kN</text>
<text x="248" y="459" text-anchor="middle">Displacement/mm</text>
<text x="247" y="496" text-anchor="middle">(d) <tspan font-style="italic">N</tspan><tspan font-size="14" dy="5">d</tspan><tspan dy="-5">=4</tspan></text>
<g class="lg">
<path d="M207,27.4h53" stroke="#151515" stroke-width="1.1"/><use href="#p_sq" xlink:href="#p_sq" x="233.5" y="27.4" stroke="#151515"/><text x="266.5" y="35.4">SMCT</text>
<path d="M347,27.4h53" stroke="#e3264f" stroke-width="1.1"/><use href="#p_ci" xlink:href="#p_ci" x="373.5" y="27.4" stroke="#d0303c"/><text x="405" y="35.4"><tspan font-style="italic">N</tspan><tspan font-size="13.5" dy="5">d</tspan><tspan dy="-5">4</tspan><tspan font-style="italic">A</tspan><tspan font-size="13.5" dy="5">d</tspan><tspan dy="-5">2</tspan></text>
<path d="M207,59.1h53" stroke="#a5a650" stroke-width="1.1"/><use href="#p_tu" xlink:href="#p_tu" x="233.5" y="59.1" stroke="#4ea64e"/><text x="266.5" y="67.1"><tspan font-style="italic">N</tspan><tspan font-size="13.5" dy="5">d</tspan><tspan dy="-5">4</tspan><tspan font-style="italic">A</tspan><tspan font-size="13.5" dy="5">d</tspan><tspan dy="-5">3</tspan></text>
<path d="M347,59.1h53" stroke="#3d3d8f" stroke-width="1.1"/><use href="#p_td" xlink:href="#p_td" x="373.5" y="59.1" stroke="#3048a8"/><text x="405" y="67.1"><tspan font-style="italic">N</tspan><tspan font-size="13.5" dy="5">d</tspan><tspan dy="-5">4</tspan><tspan font-style="italic">A</tspan><tspan font-size="13.5" dy="5">d</tspan><tspan dy="-5">4</tspan></text>
<path d="M207,90.8h53" stroke="#72d5c0" stroke-width="1.1"/><use href="#p_di" xlink:href="#p_di" x="233.5" y="90.8" stroke="#3dcdb0"/><text x="266.5" y="98.8"><tspan font-style="italic">N</tspan><tspan font-size="13.5" dy="5">d</tspan><tspan dy="-5">4</tspan><tspan font-style="italic">A</tspan><tspan font-size="13.5" dy="5">d</tspan><tspan dy="-5">5</tspan></text>
<path d="M347,90.8h53" stroke="#7a7a7a" stroke-width="1.1"/><use href="#p_tl" xlink:href="#p_tl" x="373.5" y="90.8" stroke="#b0608a"/><text x="405" y="98.8"><tspan font-style="italic">N</tspan><tspan font-size="13.5" dy="5">d</tspan><tspan dy="-5">4</tspan><tspan font-style="italic">A</tspan><tspan font-size="13.5" dy="5">d</tspan><tspan dy="-5">6</tspan></text>
<path d="M207,122.5h53" stroke="#2d6e5f" stroke-width="1.1"/><use href="#p_tr" xlink:href="#p_tr" x="233.5" y="122.5" stroke="#2d7a68"/><text x="266.5" y="130.5"><tspan font-style="italic">N</tspan><tspan font-size="13.5" dy="5">d</tspan><tspan dy="-5">4</tspan><tspan font-style="italic">A</tspan><tspan font-size="13.5" dy="5">d</tspan><tspan dy="-5">7</tspan></text>
</g>
</g>

<!-- ================= PANEL E ================= -->
<g transform="translate(451.1,1059.8)">
<svg x="0" y="0" width="496" height="400" viewBox="-10 -120 115 130" preserveAspectRatio="none">
<g transform="scale(1,-1)" fill="none" stroke-width=".31" stroke-linejoin="round">
<use href="#smct" xlink:href="#smct" stroke="#151515"/>
<polyline stroke="#e3264f" points="0,0 0.5,50 1.2,87 1.8,72 2.4,60 3,52 3.5,50 4.2,51.5 4.8,51 5.5,45 6.2,40 7,36 8,31.5 9,28 9.8,25.5 10.5,23.5 11,22.9 11.8,24.5 12.6,28.8 13.5,31.5 14.5,34.5 15.5,37 16.5,39.5 17.5,41.5 18.5,43.5 19.5,44.5 20.5,45.5 21.5,48 22.2,53 22.8,56.3 23.5,54 24,48 24.6,42 25.2,36.4 26,32.5 27,29.5 28,27.5 29,26.3 30,25.5 31,25.2 32,25 33,24.8 34,24.8 35,25.2 35.7,26.5 36.3,29 37,32 37.7,35.3 38.5,38 39.3,41 40,43.5 40.8,46 41.5,47.5 42.3,49 43,50 43.6,51.3 44.5,51.5 45.5,50.5 46.2,48 46.8,44 47.5,40 48.2,36.5 49,34.5 50.2,33.3 51,34.5 52,36.5 53,37.5 54,38 55,37.8 56,38.2 57,39 58,40.5 59,42.5 60,44.2 61,44.8 62,44.5 62.9,44 64,43.2 65,42.5 66,41.5 67,40.5 68,39.8 69,39.5 70,40 71,40.5 72,40.2 73,39 74,38 75.5,36.7 76.5,36 77.5,35.5 78.5,35.3 79.5,35.2 80.5,35.5 81.5,36.5 82.5,37.5 83.5,37 84.5,35.5 85.5,35 86.5,35 88.2,35.3 89.5,37 90.5,38.5 91.5,40 92.5,41.5 93.5,43 94.5,44.2 95.5,45.5 96.5,46.5 97.5,47 98.5,46.5 99.5,44.5 100.7,42 101.5,41.2 102.5,40.3 103.5,39.5 104.3,38.5 105,37.8"/>
<polyline stroke="#a5a650" points="0,0 0.5,55 1.2,90 1.8,92 2.3,80 2.9,72 3.5,76 4.2,78 4.9,72 5.6,68 6.3,63 7,58 7.8,54 8.6,51 9.4,50 10.2,49.5 11,48.5 12,48 12.6,47.5 13.5,49 14.5,50.5 15.5,52 16.5,53.5 17.5,55 18.5,57.5 19.3,60 20,62 20.7,60 21.5,56 22.3,52 23,50 23.7,51 24.5,54.5 25.2,56.7 26,56.5 27,55 28,53 29,51.5 30,50.5 31,50 32,50 33,49.7 34,49.5 35,49.5 36,49.8 37.7,51.2 38.5,52.5 39.5,54 40.3,55.5 40.8,56.3 41.5,55 42.3,52.5 43,50.5 44,49 45,48.5 46,49.2 47,50 48,51 49,51.8 50.2,52.3 51,52.5 52,52 53,51 54,50.2 55,49.5 56,48.5 57,46.5 57.8,45.4 58.5,46.5 59.5,48.5 60.5,50 61.5,50.3 62.9,49.8 64,49.2 65,49 66,49.8 67,50.8 68,50.5 69,50 70,49.8 71,50 72,50.2 73,49.8 74,49.3 75.5,49.2 76.5,50.5 77.5,52.5 78.5,54.5 79.5,55 80.5,53 81.5,50.5 82.5,48.8 83.5,48 84.5,48 85.5,48.2 86.5,48 88.2,47.5 89.5,48.5 90.5,49.5 91.5,50.5 92.5,51 93.5,51.5 94.5,51.3 95.5,50.8 96.5,50.5 97.5,50.8 98.5,51 99.5,50.7 100.7,50 101.5,50.3 102.5,50.5 103.5,50.2 104.5,50 105,50"/>
<polyline stroke="#3d3d8f" points="0,0 0.5,55 1.2,90 1.8,93 2.3,80 2.9,70 3.5,75 4.2,79 4.9,79 5.6,74 6.3,70 7,68 7.8,66 8.6,64 9.4,62.5 10.2,61.5 11,60 11.8,58.5 12.6,60.8 13.5,63 14.5,64 15.5,63.5 16.5,62.5 17.5,60.5 18.3,58.5 19,60 19.7,62.5 20.5,62 21.5,61 22.5,60.3 23.5,60.5 24.5,62 25.2,64 26,62.5 27,60.5 28,59 28.8,58.5 29.5,60 30.2,62.5 30.8,64 31.5,62.5 32.5,60 33.5,58.5 34.5,57.5 35.5,57 36.5,55.5 37.7,53.8 38.5,54.5 39.5,56 40.5,57.5 41.5,58.5 42.5,59 43.5,59.5 44.5,60.3 45.5,61 46.5,60.5 47.5,60 48.5,61 49.5,61.8 50.2,62 51,61.5 52,61 53,61.3 54,61.5 55,61.3 56,60.8 57,60.5 58,60.7 59,61.2 60,61.5 61,60.8 62,58.5 62.9,55.8 64,55 65,54.5 66,55.5 67,57 68,58.5 69,59.5 70,60 71,60 72,59.8 73,59.5 74,59 75.5,58.5 76.5,60 77.5,62.5 78.5,65 79.5,66.5 80.5,66 81.5,65.5 82.5,65.5 83.5,66 84.5,65.5 85.5,64 86.5,63.5 88.2,64.7 89.5,63 90.5,62 91.5,61 92.5,60 93.5,57.5 94.5,55 95.5,53.5 96.5,53.3 97.5,54 98.5,55.5 99.5,56.5 100.7,54.2 101.5,55 102.5,56.5 103.5,57.5 104.3,58 105,58.3"/>
<polyline stroke="#72d5c0" points="0,0 0.5,55 1.2,90 1.8,93 2.3,80 2.9,72 3.5,78 4.2,82 4.9,80 5.6,74 6.3,70 7,68 7.8,67 8.6,66 9.4,65.5 10.2,65.5 11,66 11.8,66.5 12.6,67 13.5,65.5 14.5,64 15.5,63 16.5,62 17.5,61.3 18.5,61 19.5,60.5 20.5,61 21.5,62.3 22.5,62.5 23.5,61.5 24.5,61 25.2,61 26,60.8 27,60.5 28,60.7 29,61 30,61.8 31,62.5 32,62 33,61.3 34,61 35,61 36,61.2 37.7,61 38.5,62 39.5,62.5 40.5,61.5 41.5,60.8 42.5,61 43.5,61.2 44.5,61.5 45.5,61.8 46.5,62 47.5,62.2 48.5,62 50.2,62 51,62.5 52,63 53,62.3 54,61.7 55,61.3 56,61 57,60.5 58,60.2 59,60.5 60,61 61,61 62,60.8 62.9,60.5 64,61 65,61.8 66,62 67,61.6 68,61.2 69,61 70,61 71,61 72,61.3 73,61.5 74,61.2 75.5,61 76.5,61.5 77.5,62 78.5,62 79.5,62 80.5,62.5 81.5,63.2 82.5,63 83.5,63 84.5,63.5 85.5,64 86.5,64 88.2,63.5 89.5,63 90.5,62.5 91.5,62.8 92.5,63 93.5,62.5 94.5,62 95.5,61.5 96.5,61 97.5,61.3 98.5,61.5 99.5,61 100.7,60.4 101.5,59.8 102.5,59.8 103.5,60.5 104.3,62 105,63.5"/>
<polyline stroke="#7a7a7a" points="0,0 0.5,55 1.2,90 1.8,94 2.3,82 2.9,72 3.5,76 4.2,77 4.9,74 5.6,70 6.3,69 7,71 7.7,73.5 8.5,75 9.2,72 10,68.5 10.8,67 11.7,66 12.6,66.2 13.5,64 14.5,62.5 15.5,61 16.5,60.5 17.5,60 18.3,58.5 19.2,56.5 20,57.5 20.8,59.5 21.5,60.5 22.5,61 23.5,61.2 24.5,62 25.2,63.3 26,61.5 27,60.5 28,60 29,59.5 30,60.5 30.8,62 31.5,60.5 32.5,59 33.5,59.2 34.5,59.8 35.5,60.5 36.5,60 37.7,58.5 38.5,58.8 39.5,59.5 40.5,60 41.5,60.2 42.5,60.5 43.5,61 44.5,61.5 45.5,62 46.5,62.5 47.5,63.5 48.5,64.5 49.5,65.5 50.2,63.3 51,62 52,61.3 53,61 54,61 55,60.5 56,60 57,59.8 58,59.5 59,59.3 60,59 61,59.5 62,60 62.9,60.5 64,60.8 65,61 66,60.5 67,60 68,59.5 69,59 70,59 71,59.2 72,59.5 73,60 74,59.5 75.5,58.8 76.5,59.5 77.5,60 78.5,60 79.5,60 80.5,60 81.5,60 82.5,60.2 83.5,60 84.5,59.8 85.5,59.5 86.5,59.5 88.2,59.5 89.5,60.3 90.5,61 91.5,61.8 92.5,62 93.5,61.7 94.5,61.3 95.5,60.5 96.5,60 97.5,59.7 98.5,59.5 99.5,58.5 100.7,57.5 101.5,55 102.2,60 103,67 104,76 105,84"/>
<polyline stroke="#2d6e5f" points="0,0 0.5,55 1.2,88 1.9,93.8 2.5,80 3.3,70 4,78 4.8,83.5 5.5,76 6.2,72 7,70 7.8,72 8.5,74 9.2,71 10,68 10.8,66.5 11.7,66 12.6,66 13.5,64 14.5,62 15.5,60.5 16.5,59.5 17.5,58.5 18.5,57.5 19.5,57 20.5,58 21.5,59 22.5,60 23.5,59.8 24.5,59.3 25.2,59.2 26,59 27,59 28,58.5 29,58 30,59 31,60 32,60.2 33,60 34,59.5 35,59 36,58.3 37.7,57.9 38.5,58.3 39.5,59 40.5,59.7 41.5,60.2 42.5,60.5 43.5,61 44.5,60.5 45.5,60 46.5,59.5 47.5,59.2 48.5,59 50.2,59.2 51,59 52,58.8 53,58.5 54,58.5 55,59 56,59.5 57,59.5 58,59.5 59,59.8 60,60 61,59.8 62,59.2 62.9,58.8 64,59 65,59 66,59 67,59 68,59.2 69,59.5 70,59.8 71,60 72,59.5 73,59 74,58.5 75.5,58.3 76.5,59 77.5,59.5 78.5,60 79.5,60 80.5,60 81.5,60 82.5,60 83.5,59.8 84.5,59.5 85.5,59.2 86.5,59.3 88.2,60 89.5,59.3 90.5,58.5 91.5,57.5 92.5,57 93.5,56 94.5,55.5 95.5,55 96.5,54.5 97.5,54 98.5,53.5 99.5,54 100.7,55.8 101.5,56 102.5,58 103.5,63 104.3,68 105,73"/>
</g>
<g stroke="#151515"><use href="#sqE" xlink:href="#sqE" x="0" y="0"/><use href="#sqE" xlink:href="#sqE" x="12.6" y="-35.5"/><use href="#sqE" xlink:href="#sqE" x="25.2" y="-31"/><use href="#sqE" xlink:href="#sqE" x="37.7" y="-34.3"/><use href="#sqE" xlink:href="#sqE" x="50.2" y="-36.6"/><use href="#sqE" xlink:href="#sqE" x="62.9" y="-30.5"/><use href="#sqE" xlink:href="#sqE" x="75.5" y="-39"/><use href="#sqE" xlink:href="#sqE" x="88.2" y="-35.2"/><use href="#sqE" xlink:href="#sqE" x="100.7" y="-35"/></g>
<g stroke="#d0303c"><use href="#ciE" xlink:href="#ciE" x="0" y="0"/><use href="#ciE" xlink:href="#ciE" x="12.6" y="-28.8"/><use href="#ciE" xlink:href="#ciE" x="25.2" y="-36.4"/><use href="#ciE" xlink:href="#ciE" x="37.7" y="-35.3"/><use href="#ciE" xlink:href="#ciE" x="50.2" y="-33.3"/><use href="#ciE" xlink:href="#ciE" x="62.9" y="-44"/><use href="#ciE" xlink:href="#ciE" x="75.5" y="-36.7"/><use href="#ciE" xlink:href="#ciE" x="88.2" y="-35.3"/><use href="#ciE" xlink:href="#ciE" x="100.7" y="-42"/></g>
<g stroke="#4ea64e"><use href="#tuE" xlink:href="#tuE" x="0" y="0"/><use href="#tuE" xlink:href="#tuE" x="12.6" y="-47.5"/><use href="#tuE" xlink:href="#tuE" x="25.2" y="-56.7"/><use href="#tuE" xlink:href="#tuE" x="37.7" y="-51.2"/><use href="#tuE" xlink:href="#tuE" x="50.2" y="-52.3"/><use href="#tuE" xlink:href="#tuE" x="62.9" y="-49.8"/><use href="#tuE" xlink:href="#tuE" x="75.5" y="-49.2"/><use href="#tuE" xlink:href="#tuE" x="88.2" y="-47.5"/><use href="#tuE" xlink:href="#tuE" x="100.7" y="-50"/></g>
<g stroke="#3048a8"><use href="#tdE" xlink:href="#tdE" x="0" y="0"/><use href="#tdE" xlink:href="#tdE" x="12.6" y="-60.8"/><use href="#tdE" xlink:href="#tdE" x="25.2" y="-64"/><use href="#tdE" xlink:href="#tdE" x="37.7" y="-53.8"/><use href="#tdE" xlink:href="#tdE" x="50.2" y="-62"/><use href="#tdE" xlink:href="#tdE" x="62.9" y="-55.8"/><use href="#tdE" xlink:href="#tdE" x="75.5" y="-58.5"/><use href="#tdE" xlink:href="#tdE" x="88.2" y="-64.7"/><use href="#tdE" xlink:href="#tdE" x="100.7" y="-54.2"/></g>
<g stroke="#3dcdb0"><use href="#diE" xlink:href="#diE" x="0" y="0"/><use href="#diE" xlink:href="#diE" x="12.6" y="-67"/><use href="#diE" xlink:href="#diE" x="25.2" y="-61"/><use href="#diE" xlink:href="#diE" x="37.7" y="-61"/><use href="#diE" xlink:href="#diE" x="50.2" y="-62"/><use href="#diE" xlink:href="#diE" x="62.9" y="-60.5"/><use href="#diE" xlink:href="#diE" x="75.5" y="-61"/><use href="#diE" xlink:href="#diE" x="88.2" y="-63.5"/><use href="#diE" xlink:href="#diE" x="100.7" y="-60.4"/></g>
<g stroke="#b0608a"><use href="#tlE" xlink:href="#tlE" x="0" y="0"/><use href="#tlE" xlink:href="#tlE" x="12.6" y="-66.2"/><use href="#tlE" xlink:href="#tlE" x="25.2" y="-63.3"/><use href="#tlE" xlink:href="#tlE" x="37.7" y="-58.5"/><use href="#tlE" xlink:href="#tlE" x="50.2" y="-63.3"/><use href="#tlE" xlink:href="#tlE" x="62.9" y="-60.5"/><use href="#tlE" xlink:href="#tlE" x="75.5" y="-58.8"/><use href="#tlE" xlink:href="#tlE" x="88.2" y="-59.5"/><use href="#tlE" xlink:href="#tlE" x="100.7" y="-57.5"/></g>
<g stroke="#2d7a68"><use href="#trE" xlink:href="#trE" x="0" y="0"/><use href="#trE" xlink:href="#trE" x="12.6" y="-66"/><use href="#trE" xlink:href="#trE" x="25.2" y="-59.2"/><use href="#trE" xlink:href="#trE" x="37.7" y="-57.9"/><use href="#trE" xlink:href="#trE" x="50.2" y="-59.2"/><use href="#trE" xlink:href="#trE" x="62.9" y="-58.8"/><use href="#trE" xlink:href="#trE" x="75.5" y="-58.3"/><use href="#trE" xlink:href="#trE" x="88.2" y="-60"/><use href="#trE" xlink:href="#trE" x="100.7" y="-55.8"/></g>
</svg>
<rect x="0" y="0" width="496" height="400" fill="none" stroke="#000" stroke-width="1.4"/>
<path d="M43.1,400v-6.5M129.4,400v-6.5M215.6,400v-6.5M301.9,400v-6.5M388.1,400v-6.5M474.4,400v-6.5M0,369.2h6.5M0,307.7h6.5M0,246.2h6.5M0,184.6h6.5M0,123.1h6.5M0,61.5h6.5" stroke="#000" stroke-width="1.3" fill="none"/>
<g text-anchor="middle"><text x="43.1" y="425">0</text><text x="129.4" y="425">20</text><text x="215.6" y="425">40</text><text x="301.9" y="425">60</text><text x="388.1" y="425">80</text><text x="474.4" y="425">100</text></g>
<g text-anchor="end"><text x="-8" y="376.9">0</text><text x="-8" y="315.4">20</text><text x="-8" y="253.9">40</text><text x="-8" y="192.3">60</text><text x="-8" y="130.8">80</text><text x="-8" y="69.2">100</text><text x="-8" y="7.7">120</text></g>
<text transform="translate(-59,200) rotate(-90)" text-anchor="middle">Crushing force/kN</text>
<text x="248" y="459" text-anchor="middle">Displacement/mm</text>
<text x="247" y="496" text-anchor="middle">(e) <tspan font-style="italic">N</tspan><tspan font-size="14" dy="5">d</tspan><tspan dy="-5">=5</tspan></text>
<g class="lg">
<path d="M207,27.4h53" stroke="#151515" stroke-width="1.1"/><use href="#p_sq" xlink:href="#p_sq" x="233.5" y="27.4" stroke="#151515"/><text x="266.5" y="35.4">SMCT</text>
<path d="M347,27.4h53" stroke="#e3264f" stroke-width="1.1"/><use href="#p_ci" xlink:href="#p_ci" x="373.5" y="27.4" stroke="#d0303c"/><text x="405" y="35.4"><tspan font-style="italic">N</tspan><tspan font-size="13.5" dy="5">d</tspan><tspan dy="-5">5</tspan><tspan font-style="italic">A</tspan><tspan font-size="13.5" dy="5">d</tspan><tspan dy="-5">2</tspan></text>
<path d="M207,59.1h53" stroke="#a5a650" stroke-width="1.1"/><use href="#p_tu" xlink:href="#p_tu" x="233.5" y="59.1" stroke="#4ea64e"/><text x="266.5" y="67.1"><tspan font-style="italic">N</tspan><tspan font-size="13.5" dy="5">d</tspan><tspan dy="-5">5</tspan><tspan font-style="italic">A</tspan><tspan font-size="13.5" dy="5">d</tspan><tspan dy="-5">3</tspan></text>
<path d="M347,59.1h53" stroke="#3d3d8f" stroke-width="1.1"/><use href="#p_td" xlink:href="#p_td" x="373.5" y="59.1" stroke="#3048a8"/><text x="405" y="67.1"><tspan font-style="italic">N</tspan><tspan font-size="13.5" dy="5">d</tspan><tspan dy="-5">5</tspan><tspan font-style="italic">A</tspan><tspan font-size="13.5" dy="5">d</tspan><tspan dy="-5">4</tspan></text>
<path d="M207,90.8h53" stroke="#72d5c0" stroke-width="1.1"/><use href="#p_di" xlink:href="#p_di" x="233.5" y="90.8" stroke="#3dcdb0"/><text x="266.5" y="98.8"><tspan font-style="italic">N</tspan><tspan font-size="13.5" dy="5">d</tspan><tspan dy="-5">5</tspan><tspan font-style="italic">A</tspan><tspan font-size="13.5" dy="5">d</tspan><tspan dy="-5">5</tspan></text>
<path d="M347,90.8h53" stroke="#7a7a7a" stroke-width="1.1"/><use href="#p_tl" xlink:href="#p_tl" x="373.5" y="90.8" stroke="#b0608a"/><text x="405" y="98.8"><tspan font-style="italic">N</tspan><tspan font-size="13.5" dy="5">d</tspan><tspan dy="-5">5</tspan><tspan font-style="italic">A</tspan><tspan font-size="13.5" dy="5">d</tspan><tspan dy="-5">6</tspan></text>
<path d="M207,122.5h53" stroke="#2d6e5f" stroke-width="1.1"/><use href="#p_tr" xlink:href="#p_tr" x="233.5" y="122.5" stroke="#2d7a68"/><text x="266.5" y="130.5"><tspan font-style="italic">N</tspan><tspan font-size="13.5" dy="5">d</tspan><tspan dy="-5">5</tspan><tspan font-style="italic">A</tspan><tspan font-size="13.5" dy="5">d</tspan><tspan dy="-5">7</tspan></text>
</g>
</g>
</svg>
</body></html>
